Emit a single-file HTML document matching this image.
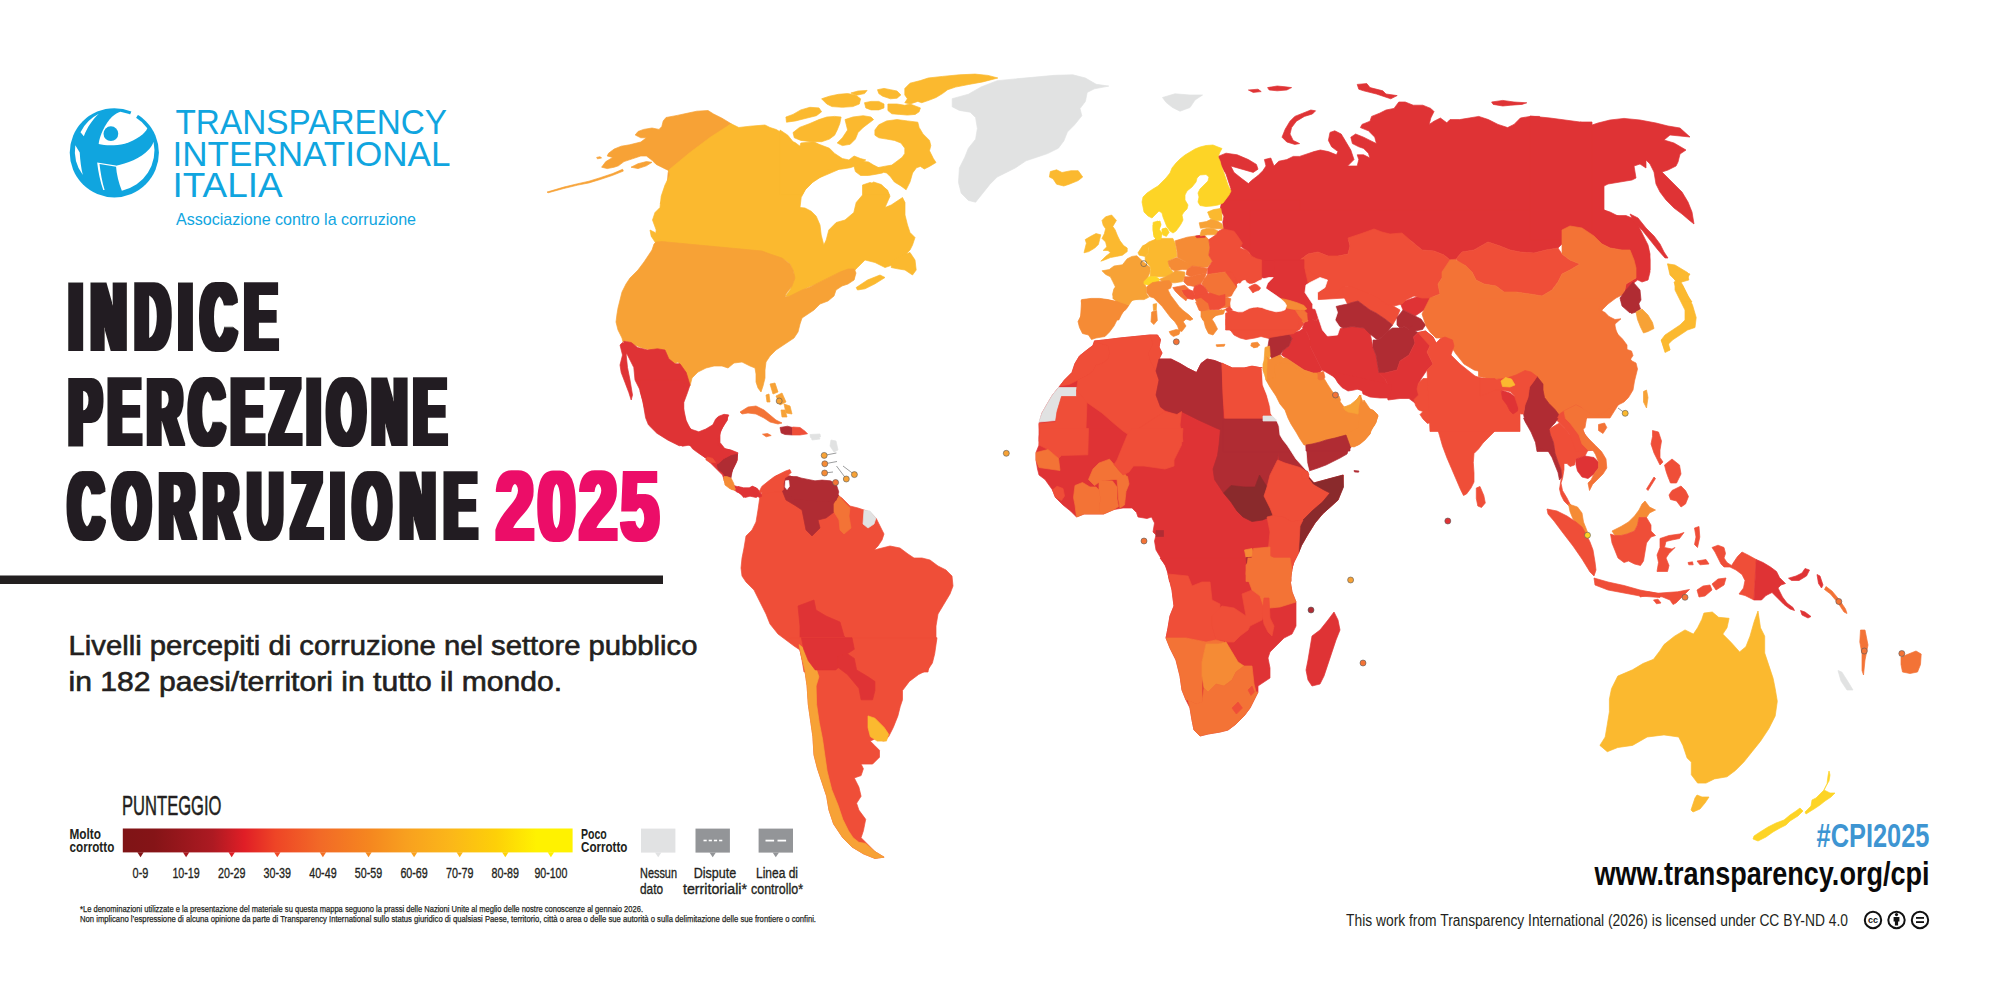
<!DOCTYPE html>
<html><head><meta charset="utf-8"><style>
html,body{margin:0;padding:0;background:#fff;}
body{width:2000px;height:1000px;overflow:hidden;position:relative;}
svg{position:absolute;left:0;top:0;}
</style></head><body>
<svg width="2000" height="1000" viewBox="0 0 2000 1000">
<defs><linearGradient id="lg" x1="0" x2="1" y1="0" y2="0">
<stop offset="0" stop-color="#7f1416"/><stop offset="0.07" stop-color="#851417"/>
<stop offset="0.2" stop-color="#ad1a22"/><stop offset="0.27" stop-color="#e01e26"/>
<stop offset="0.34" stop-color="#ee4526"/><stop offset="0.44" stop-color="#f26a27"/>
<stop offset="0.55" stop-color="#f5871f"/><stop offset="0.63" stop-color="#f8a01f"/>
<stop offset="0.73" stop-color="#fbb719"/><stop offset="0.83" stop-color="#fdd008"/>
<stop offset="0.92" stop-color="#fff200"/><stop offset="1" stop-color="#fff200"/>
</linearGradient><filter id="hb" x="-5%" y="-5%" width="110%" height="110%"><feMorphology operator="dilate" radius="7.20 0.5"/></filter><filter id="hb2" x="-5%" y="-5%" width="110%" height="110%"><feMorphology operator="dilate" radius="4.29 0.5"/></filter></defs>
<g>
<path fill="#f7a236" stroke="#f7a236" stroke-width="0.7" d="M731.2,123.8 722.0,118.2 713.6,114.0 708.0,110.5 696.8,111.2 687.0,113.3 677.2,115.4 666.0,117.5 663.2,121.0 661.8,126.6 659.0,129.4 652.0,128.0 643.6,129.4 638.0,131.5 635.2,135.0 640.8,137.8 646.4,137.8 640.8,142.0 629.6,144.8 621.2,146.2 614.2,149.0 608.6,153.2 607.2,156.0 612.8,157.4 605.8,161.6 601.6,167.2 607.2,168.6 614.2,167.2 618.4,165.8 624.0,161.6 632.4,158.8 640.8,156.0 646.4,156.0 652.0,160.2 656.2,164.4 661.8,167.2 667.4,170.0 670.2,171.4Z"/>
<path fill="#f7a236" stroke="#f7a236" stroke-width="0.7" d="M622.6,169.3 612.8,173.5 600.2,177.7 589.0,181.2 577.8,183.7 563.8,187.1 547.0,192.1 548.4,192.7 563.8,188.5 577.8,185.1 589.0,182.9 600.2,179.5 612.8,175.3 623.3,171.1Z"/>
<path fill="#f7a236" stroke="#f7a236" stroke-width="0.7" d="M631.0,167.2 638.0,163.7 646.4,161.6 652.0,162.3 646.4,165.8 638.0,168.6Z"/>
<path fill="#f7a236" stroke="#f7a236" stroke-width="0.7" d="M668.8,170.0 674.4,172.8 680.0,175.6 678.6,181.2 675.8,189.6 673.0,198.0 668.8,203.6 663.2,206.4 660.4,203.6 663.2,196.6 666.0,189.6 667.4,181.2 668.1,172.8Z"/>
<path fill="#f7a236" stroke="#f7a236" stroke-width="0.7" d="M596.7,157.4 600.2,156.7 601.6,158.1 597.4,158.8Z"/>
<path fill="#fbb92f" stroke="#fbb92f" stroke-width="0.7" d="M731.2,123.8 738.8,127.5 750.0,126.2 765.0,125.0 770.0,127.5 776.2,129.5 781.2,132.5 787.5,136.2 787.5,140.0 795.0,142.5 800.0,146.2 802.5,150.0 812.5,150.5 825.0,152.5 833.8,155.0 842.5,160.0 842.5,166.2 837.5,170.0 828.8,173.8 820.0,177.5 812.5,182.5 805.0,190.0 801.2,197.5 800.0,207.5 805.0,208.0 811.2,211.2 816.2,216.2 820.0,225.0 821.2,235.0 823.8,245.0 826.2,240.0 828.8,230.0 836.2,222.5 845.0,220.0 853.8,212.5 856.2,202.5 862.5,195.0 862.5,185.0 870.0,182.5 880.0,185.0 887.5,190.0 890.0,196.2 885.0,207.5 891.2,205.0 902.5,197.5 905.0,202.5 905.0,215.0 907.5,225.0 910.0,232.5 915.0,237.5 912.5,245.0 910.0,250.0 902.5,257.5 892.5,265.0 885.0,267.5 875.0,262.5 865.0,260.0 857.5,267.5 855.0,270.0 853.8,280.0 845.0,276.2 837.5,273.8 827.5,278.8 817.5,283.8 807.5,287.5 798.8,292.5 791.2,296.2 785.5,296.2 790.0,290.0 793.8,280.0 793.8,272.5 790.0,263.8 785.0,260.0 776.2,258.8 762.5,252.5 750.0,251.2 730.0,248.8 705.0,246.2 680.0,243.8 663.8,242.0 660.0,246.2 655.0,237.5 656.2,230.0 652.5,220.0 655.0,212.5 660.0,207.5 661.2,196.2 665.0,185.0 670.0,175.0 668.8,170.0 690.0,152.5 710.0,137.5Z"/>
<path fill="#fbb92f" stroke="#fbb92f" stroke-width="0.7" d="M892.5,260.0 902.5,255.0 910.0,252.5 915.0,260.0 916.2,270.0 912.5,275.0 905.0,270.0 897.5,268.8 891.2,267.5Z"/>
<path fill="#fbb92f" stroke="#fbb92f" stroke-width="0.7" d="M856.2,287.5 867.5,280.0 880.0,275.0 885.0,277.5 875.0,283.8 865.0,288.8 857.5,290.0Z"/>
<path fill="#fbb92f" stroke="#fbb92f" stroke-width="0.7" d="M650.0,230.0 655.0,232.5 660.0,240.0 661.2,246.2 656.2,243.8 651.2,236.2Z"/>
<path fill="#fbb92f" stroke="#fbb92f" stroke-width="0.7" d="M904.8,88.4 910.0,83.2 920.4,80.6 928.2,78.0 942.5,76.4 959.4,74.8 975.0,74.1 988.0,75.4 997.8,78.0 982.8,81.9 968.5,84.5 955.5,87.1 947.7,89.7 942.5,93.6 936.0,97.5 929.5,100.1 921.7,102.7 917.8,101.4 910.0,104.0 904.8,102.7 907.4,98.8 904.8,94.9Z"/>
<path fill="#fbb92f" stroke="#fbb92f" stroke-width="0.7" d="M887.9,104.0 897.0,104.0 904.8,105.3 910.0,104.0 920.4,107.9 919.1,111.8 915.2,114.4 907.4,115.1 899.6,114.4 891.8,113.8 887.9,110.5Z"/>
<path fill="#fbb92f" stroke="#fbb92f" stroke-width="0.7" d="M864.5,102.7 871.0,101.4 878.8,101.4 884.0,104.0 884.0,107.9 878.8,109.9 871.0,109.9 865.8,107.9Z"/>
<path fill="#fbb92f" stroke="#fbb92f" stroke-width="0.7" d="M877.5,89.7 884.0,88.4 890.5,89.7 897.0,91.0 900.9,94.9 897.0,98.2 890.5,98.8 882.7,96.2 878.8,93.6Z"/>
<path fill="#fbb92f" stroke="#fbb92f" stroke-width="0.7" d="M821.6,98.8 829.4,96.2 838.5,94.3 847.6,93.6 855.4,94.9 860.6,98.8 859.3,104.0 852.8,106.6 842.4,107.3 832.0,106.6 826.8,104.0Z"/>
<path fill="#fbb92f" stroke="#fbb92f" stroke-width="0.7" d="M850.9,93.0 858.0,91.0 867.1,90.4 864.5,93.6 856.7,95.2Z"/>
<path fill="#fbb92f" stroke="#fbb92f" stroke-width="0.7" d="M785.9,117.0 793.0,114.4 800.8,109.9 809.9,107.3 819.0,107.9 821.6,111.8 816.4,115.7 806.0,118.3 795.6,120.9 786.5,122.2Z"/>
<path fill="#fbb92f" stroke="#fbb92f" stroke-width="0.7" d="M793.0,132.6 799.5,127.4 809.9,123.5 819.0,119.6 826.8,117.0 834.6,116.4 841.1,117.0 839.8,123.5 837.2,130.0 834.6,135.2 829.4,139.1 821.6,141.7 811.2,141.7 800.8,140.4 794.3,137.8Z"/>
<path fill="#fbb92f" stroke="#fbb92f" stroke-width="0.7" d="M845.0,119.6 852.8,117.0 863.2,115.7 871.0,117.0 873.6,119.6 868.4,123.5 863.2,127.4 858.0,132.6 855.4,139.1 850.2,144.3 842.4,145.6 837.2,143.0 842.4,137.8 847.6,130.0 846.3,124.8Z"/>
<path fill="#fbb92f" stroke="#fbb92f" stroke-width="0.7" d="M874.9,130.0 878.8,124.8 886.6,120.9 897.0,119.6 907.4,120.9 917.8,122.2 919.1,127.4 923.0,133.9 929.5,140.4 930.8,145.6 929.5,150.8 933.4,158.6 936.0,162.5 929.5,166.4 924.3,169.0 920.4,166.4 916.5,167.7 912.6,172.9 910.0,182.0 906.1,189.8 900.9,185.9 894.4,182.0 890.5,176.8 886.6,172.9 880.1,171.6 877.5,167.7 884.0,166.4 891.8,165.1 897.0,161.2 902.2,157.3 904.8,153.4 904.8,148.2 900.9,143.0 894.4,140.4 886.6,139.1 878.8,137.8 874.9,135.2Z"/>
<path fill="#fbb92f" stroke="#fbb92f" stroke-width="0.7" d="M854.1,166.4 860.6,161.2 868.4,161.9 873.6,165.1 878.8,167.7 884.0,169.0 882.7,172.9 876.2,174.2 868.4,175.5 860.6,175.5 855.4,171.6Z"/>
<path fill="#fbb92f" stroke="#fbb92f" stroke-width="0.7" d="M780.0,130.0 787.8,135.2 793.0,141.7 799.5,148.2 800.8,143.0 813.8,141.7 819.0,144.3 829.4,148.2 834.6,153.4 842.4,158.6 848.9,159.9 854.1,156.0 860.6,158.6 865.8,159.9 858.0,165.1 850.2,167.7 842.4,169.0 832.0,170.3 826.8,169.0 822.9,175.5 813.8,180.7 806.0,188.5 802.1,195.0 780.0,195.0Z"/>
<path fill="#fbb92f" stroke="#fbb92f" stroke-width="0.7" d="M863.2,195.0 868.4,185.9 873.6,182.0 881.4,184.6 886.6,189.8 889.2,195.0Z"/>
<path fill="#f7a236" stroke="#f7a236" stroke-width="0.7" d="M656.0,242.0 662.0,241.6 762.0,251.0 770.0,254.0 782.0,258.0 790.0,264.0 793.0,270.0 795.0,278.0 792.0,286.0 786.0,294.0 785.0,297.0 790.0,296.0 802.0,290.0 810.0,287.0 820.0,282.0 830.0,277.0 840.0,272.0 848.0,269.0 854.0,269.0 856.0,273.0 854.0,280.0 848.0,284.0 842.0,286.0 836.0,290.0 834.0,296.0 828.0,301.0 820.0,304.0 814.0,310.0 808.0,314.0 802.0,318.0 800.0,324.0 798.0,332.0 794.0,338.0 788.0,342.0 782.0,346.0 776.0,350.0 770.0,356.0 766.0,362.0 765.0,370.0 765.0,378.0 763.0,386.0 761.0,392.0 758.0,388.0 756.0,382.0 756.0,374.0 755.0,368.0 750.0,366.0 742.0,362.0 734.0,363.0 728.0,368.0 722.0,366.0 714.0,366.0 706.0,368.0 698.0,372.0 692.0,378.0 690.0,386.0 684.0,382.0 682.0,374.0 681.0,366.0 678.0,362.0 674.0,364.0 668.0,358.0 665.0,350.0 658.0,349.0 650.0,350.0 642.0,348.0 632.0,344.0 626.0,341.0 623.0,342.0 622.0,338.0 618.0,330.0 616.0,322.0 617.0,314.0 618.0,308.0 620.0,300.0 622.0,292.0 626.0,284.0 630.0,278.0 638.0,270.0 644.0,262.0 648.0,256.0 652.0,250.0 654.0,244.0Z"/>
<path fill="#f37336" stroke="#f37336" stroke-width="0.7" d="M740.0,412.0 748.0,407.0 756.0,406.0 764.0,410.0 770.0,415.0 776.0,420.0 782.0,423.0 778.0,424.0 770.0,422.0 764.0,418.0 756.0,414.0 748.0,413.0 742.0,414.0Z"/>
<path fill="#df3335" stroke="#df3335" stroke-width="0.7" d="M623.8,341.2 631.2,342.5 637.5,347.5 647.5,350.0 657.5,348.8 665.0,350.0 668.8,358.8 675.0,363.8 680.0,363.8 686.2,372.5 690.0,385.0 687.5,392.5 683.8,402.5 683.8,415.0 687.5,425.0 693.8,432.5 705.0,432.5 712.5,427.5 717.5,417.5 727.5,415.0 727.5,420.0 722.5,427.5 720.0,432.5 715.0,435.0 710.0,436.2 705.0,437.5 695.0,433.8 692.5,440.0 690.0,445.0 682.5,446.2 675.0,442.5 665.0,437.5 655.0,430.0 647.5,420.0 645.0,410.0 642.5,400.0 640.0,390.0 635.0,380.0 633.8,367.5 630.0,360.0 625.0,350.0Z"/>
<path fill="#df3335" stroke="#df3335" stroke-width="0.7" d="M622.5,342.5 628.8,345.0 626.2,355.0 627.5,367.5 630.0,380.0 632.5,395.0 631.2,400.0 628.8,392.5 625.0,382.5 621.2,372.5 620.0,365.0 622.5,355.0 620.0,345.0Z"/>
<path fill="#df3335" stroke="#df3335" stroke-width="0.7" d="M690.0,445.0 700.0,437.5 705.0,435.0 715.0,433.8 720.0,432.5 720.0,442.5 725.0,448.8 730.0,450.0 737.5,453.8 737.5,460.0 732.5,470.0 730.0,477.5 732.5,485.0 740.0,487.5 747.5,490.0 752.5,486.2 757.5,488.8 760.0,495.0 756.2,497.5 750.0,496.2 745.0,497.5 740.0,493.8 736.2,490.0 730.0,487.5 725.0,482.5 722.5,475.0 717.5,470.0 710.0,462.5 705.0,457.5 697.5,452.5 692.5,448.8Z"/>
<path fill="#b02c33" stroke="#b02c33" stroke-width="0.7" d="M718.8,460.0 727.5,456.2 737.5,453.8 736.2,462.5 732.5,470.0 730.0,476.2 725.0,476.2 721.2,470.0 717.5,465.0Z"/>
<path fill="#f58b35" stroke="#f58b35" stroke-width="0.7" d="M723.8,477.5 730.0,477.0 732.5,485.0 736.2,490.0 730.0,488.8 725.0,485.0Z"/>
<path fill="#b02c33" stroke="#b02c33" stroke-width="0.7" d="M780.0,427.5 787.5,426.2 792.5,427.5 792.5,435.0 785.0,434.5 781.2,433.0Z"/>
<path fill="#ef4e38" stroke="#ef4e38" stroke-width="0.7" d="M792.5,427.0 800.0,427.5 805.0,431.2 807.5,433.8 800.0,435.0 792.5,435.0Z"/>
<path fill="#f37336" stroke="#f37336" stroke-width="0.7" d="M762.5,434.2 767.5,433.5 771.2,435.5 766.2,436.8Z"/>
<path fill="#e1e2e2" stroke="#e1e2e2" stroke-width="0.7" d="M810.0,434.5 820.0,434.0 820.5,437.0 810.5,437.5Z"/>
<path fill="#e1e2e2" stroke="#e1e2e2" stroke-width="0.7" d="M952.2,98.7 968.4,94.2 981.0,87.0 997.2,80.7 1015.2,78.9 1035.0,77.1 1054.8,75.3 1072.8,74.8 1085.4,78.0 1096.2,84.3 1108.8,86.1 1094.4,88.8 1087.2,92.4 1085.4,101.4 1080.0,108.6 1081.8,115.8 1074.6,124.8 1067.4,132.0 1063.8,141.0 1058.4,148.2 1047.6,153.6 1036.8,157.2 1026.0,160.8 1015.2,168.0 1004.4,173.4 997.2,177.0 990.0,184.2 982.8,193.2 975.6,202.2 968.4,200.4 961.2,193.2 958.5,182.4 959.4,168.0 964.8,157.2 968.4,148.2 975.6,139.2 977.4,128.4 975.6,117.6 970.2,112.2 959.4,110.4 952.2,106.8Z"/>
<path fill="#fbb92f" stroke="#fbb92f" stroke-width="0.7" d="M1050.3,171.6 1056.6,169.8 1062.0,172.5 1071.0,170.7 1078.2,170.7 1082.7,177.0 1078.2,180.6 1069.2,184.2 1063.8,186.0 1056.6,184.2 1053.0,178.8 1049.4,177.0Z"/>
<path fill="#df3335" stroke="#df3335" stroke-width="0.7" d="M1218.0,156.4 1226.0,153.2 1237.2,154.8 1248.4,159.6 1256.4,164.4 1258.0,169.2 1253.2,172.4 1242.0,169.2 1230.8,166.0 1234.0,172.4 1242.0,178.8 1248.4,183.6 1251.6,180.4 1258.0,175.6 1262.8,170.8 1266.0,166.0 1264.4,159.6 1270.8,158.0 1274.0,166.0 1278.8,161.2 1286.8,159.6 1293.2,156.4 1299.6,156.4 1309.2,153.2 1314.0,151.6 1320.4,150.0 1328.4,151.6 1336.4,154.8 1338.0,151.6 1331.6,146.8 1328.4,140.4 1330.0,132.4 1334.8,130.8 1341.2,134.0 1346.0,142.0 1350.8,150.0 1354.0,159.6 1347.6,166.0 1357.2,166.0 1358.8,159.6 1357.2,154.8 1363.6,154.8 1370.0,158.0 1368.4,153.2 1363.6,148.4 1358.8,146.8 1352.4,143.6 1350.8,137.2 1355.6,134.0 1363.6,137.2 1370.0,140.4 1376.4,143.6 1374.8,137.2 1368.4,130.8 1360.4,127.6 1362.0,124.4 1370.0,121.2 1371.6,116.4 1379.6,113.2 1386.0,110.0 1394.0,108.4 1398.8,102.0 1405.2,102.0 1413.2,105.2 1422.8,105.2 1430.8,108.4 1434.0,111.6 1430.8,118.0 1429.2,124.4 1434.0,121.2 1440.4,118.0 1446.8,122.8 1450.0,119.6 1459.6,119.6 1469.2,118.0 1478.8,116.4 1488.4,119.6 1498.0,124.4 1507.6,127.6 1514.0,124.4 1520.4,118.0 1530.0,116.4 1539.6,116.4 1539.6,239.6 1224.4,239.6 1222.8,222.0 1224.4,214.0 1227.6,206.0 1222.8,204.4 1226.0,198.0 1230.8,188.4 1226.0,174.0 1221.2,166.0Z"/>
<path fill="#df3335" stroke="#df3335" stroke-width="0.7" d="M1282.0,137.2 1285.2,129.2 1290.0,121.2 1294.8,116.4 1302.8,113.2 1310.8,110.0 1315.6,110.8 1312.4,114.0 1304.4,116.4 1296.4,121.2 1291.6,127.6 1290.0,134.0 1293.2,140.4 1299.6,143.6 1294.8,144.4 1286.8,142.0Z"/>
<path fill="#df3335" stroke="#df3335" stroke-width="0.7" d="M1357.2,84.4 1366.8,83.6 1370.0,87.6 1382.8,90.8 1386.0,94.0 1397.2,95.6 1390.8,98.8 1386.0,97.2 1376.4,94.0 1363.6,90.8 1358.8,89.2Z"/>
<path fill="#df3335" stroke="#df3335" stroke-width="0.7" d="M1491.6,102.0 1502.8,100.4 1514.0,102.0 1526.8,102.8 1522.0,104.4 1510.8,105.2 1502.8,106.0 1493.2,104.4Z"/>
<path fill="#df3335" stroke="#df3335" stroke-width="0.7" d="M1248.4,90.0 1258.0,89.2 1261.2,91.6 1253.2,92.4Z"/>
<path fill="#df3335" stroke="#df3335" stroke-width="0.7" d="M1267.6,87.6 1277.2,86.0 1285.2,86.8 1291.6,87.6 1286.8,90.0 1277.2,90.8 1269.2,90.0Z"/>
<path fill="#df3335" stroke="#df3335" stroke-width="0.7" d="M1222.0,200.0 1300.0,200.0 1300.0,290.0 1285.0,290.0 1284.0,286.0 1280.0,283.0 1277.0,280.0 1272.0,277.0 1270.0,273.0 1260.0,270.0 1256.0,260.0 1252.0,255.0 1246.0,250.0 1240.0,246.0 1230.0,243.0 1222.0,238.0 1226.0,230.0 1228.0,223.0 1224.0,216.0 1220.0,210.0Z"/>
<path fill="#df3335" stroke="#df3335" stroke-width="0.7" d="M1250.0,210.0 1604.0,210.0 1614.0,215.6 1626.0,215.6 1632.0,218.0 1638.0,225.0 1644.0,237.0 1648.0,245.0 1650.0,254.0 1650.0,270.0 1640.0,278.0 1630.0,286.0 1624.0,294.0 1626.0,284.0 1636.0,278.0 1636.0,268.0 1634.0,260.0 1630.0,250.0 1622.0,250.0 1610.0,248.0 1602.0,244.0 1594.0,236.0 1582.0,228.0 1570.0,226.0 1562.0,230.0 1562.0,244.0 1558.0,248.0 1546.0,250.0 1534.0,253.0 1520.0,252.0 1510.0,250.0 1500.0,246.0 1488.0,242.0 1474.0,250.0 1462.0,252.0 1456.0,259.0 1450.0,260.0 1444.0,255.0 1434.0,251.0 1422.0,250.0 1410.0,240.0 1402.0,233.0 1390.0,234.0 1382.0,232.0 1374.0,229.0 1360.0,234.0 1348.0,238.0 1350.0,246.0 1348.0,254.0 1338.0,256.0 1328.0,256.0 1318.0,252.0 1308.0,254.0 1300.0,260.0 1304.0,270.0 1310.0,284.0 1306.0,288.0 1308.0,294.0 1314.0,302.0 1308.0,310.0 1297.0,306.0 1288.0,304.0 1285.0,300.0 1280.0,290.0 1272.4,282.4 1266.0,279.0 1258.0,276.0 1250.0,274.0Z"/>
<path fill="#df3335" stroke="#df3335" stroke-width="0.7" d="M1580.0,122.0 1592.0,125.0 1598.0,123.0 1610.0,120.0 1624.0,118.4 1640.0,120.0 1656.0,123.0 1668.0,126.0 1680.0,128.0 1690.0,137.0 1680.0,136.0 1670.0,135.0 1664.0,140.0 1674.0,143.0 1686.0,150.0 1680.0,154.0 1678.0,162.0 1676.0,166.0 1668.0,170.0 1662.0,172.0 1666.0,176.0 1674.0,184.0 1682.0,192.0 1688.0,202.0 1692.0,212.0 1694.0,224.0 1689.0,220.0 1682.0,214.0 1674.0,208.0 1666.0,200.0 1660.0,192.0 1656.0,184.0 1654.0,172.0 1650.0,164.0 1646.0,160.0 1646.0,168.0 1640.0,164.0 1634.0,166.0 1636.0,178.0 1632.0,180.0 1620.0,182.0 1608.0,184.0 1604.0,186.0 1604.0,210.0 1610.0,212.0 1618.0,216.0 1624.0,218.0 1632.0,220.0 1640.0,232.0 1644.0,240.0 1648.0,248.0 1650.0,260.0 1650.0,272.0 1648.0,280.0 1642.0,282.0 1638.0,280.0 1634.0,276.0 1632.0,266.0 1628.0,252.0 1616.0,248.0 1604.0,244.0 1592.0,236.0 1580.0,228.0Z"/>
<path fill="#df3335" stroke="#df3335" stroke-width="0.7" d="M1630.0,214.0 1638.0,218.0 1646.0,228.0 1654.0,236.0 1660.0,244.0 1664.0,252.0 1668.0,258.0 1665.0,258.0 1658.0,250.0 1650.0,240.0 1642.0,230.0 1634.0,222.0Z"/>
<path fill="#fdd426" stroke="#fdd426" stroke-width="0.7" d="M1143.0,197.0 1147.0,193.0 1153.0,189.0 1158.0,186.0 1162.0,182.0 1166.0,178.0 1170.0,173.0 1172.0,168.0 1176.0,163.0 1180.0,159.0 1185.0,155.0 1190.0,152.0 1195.0,149.0 1200.0,147.0 1206.0,145.5 1213.0,145.0 1218.0,147.0 1222.0,148.5 1220.0,152.0 1218.0,157.0 1220.0,161.0 1221.0,165.0 1224.0,173.0 1226.0,179.0 1228.0,185.0 1231.0,191.0 1229.0,195.0 1226.0,199.0 1223.0,203.0 1218.0,205.0 1212.0,206.0 1206.0,206.5 1200.0,205.5 1198.0,202.0 1199.0,197.0 1198.0,193.0 1200.0,189.0 1204.0,185.0 1208.0,181.0 1209.0,177.0 1206.0,174.5 1200.0,175.0 1197.0,178.0 1196.0,182.0 1192.0,187.0 1187.0,191.0 1185.0,195.0 1185.0,200.0 1188.0,205.0 1187.0,209.0 1184.0,212.0 1182.0,215.0 1183.0,220.0 1181.0,224.0 1179.0,227.0 1176.0,231.0 1173.0,233.0 1170.0,231.0 1167.0,227.0 1165.0,222.0 1163.0,217.0 1162.0,213.0 1159.0,211.0 1156.0,214.0 1152.0,218.0 1148.0,216.0 1144.0,212.0 1143.0,207.0 1142.0,202.0Z"/>
<path fill="#fdd426" stroke="#fdd426" stroke-width="0.7" d="M1153.0,225.0 1157.0,222.0 1160.0,221.0 1161.0,225.0 1159.0,229.0 1157.0,234.0 1154.0,235.0 1153.0,230.0Z"/>
<path fill="#fdd426" stroke="#fdd426" stroke-width="0.7" d="M1162.0,229.0 1166.0,228.0 1168.0,231.0 1165.0,234.0 1162.0,233.0Z"/>
<path fill="#fbb92f" stroke="#fbb92f" stroke-width="0.7" d="M1105.6,216.8 1111.6,215.0 1116.4,220.4 1112.8,226.4 1115.2,230.0 1117.6,236.0 1120.0,240.8 1123.6,245.6 1127.2,248.0 1127.2,251.6 1122.4,255.2 1116.4,256.4 1110.4,257.6 1104.4,260.0 1100.8,261.2 1105.6,256.4 1110.4,252.8 1108.0,250.4 1103.2,250.4 1106.8,246.8 1105.6,242.0 1102.0,238.4 1104.4,233.6 1105.6,228.8 1103.2,225.2 1102.0,220.4Z"/>
<path fill="#fbb92f" stroke="#fbb92f" stroke-width="0.7" d="M1085.2,239.6 1091.2,236.0 1096.0,233.6 1100.8,234.8 1099.6,239.6 1098.4,244.4 1094.8,248.0 1088.8,251.6 1084.0,252.8 1085.2,248.0 1086.4,243.2Z"/>
<path fill="#f7a236" stroke="#f7a236" stroke-width="0.7" d="M1102.0,270.8 1109.2,269.6 1114.0,266.0 1122.4,264.8 1127.2,258.8 1132.0,256.4 1136.8,255.8 1144.0,262.4 1150.0,267.2 1150.0,272.0 1147.6,278.0 1144.0,282.8 1146.4,287.6 1146.4,293.6 1148.8,297.2 1144.0,299.6 1138.0,299.6 1133.2,299.6 1129.6,302.0 1124.8,304.4 1117.6,302.0 1112.8,298.4 1114.0,291.2 1115.2,286.4 1112.8,281.6 1110.4,276.8 1105.6,274.4Z"/>
<path fill="#fbb92f" stroke="#fbb92f" stroke-width="0.7" d="M1138.0,252.8 1142.8,245.6 1147.6,244.4 1148.8,252.8 1145.2,256.4 1139.2,255.2Z"/>
<path fill="#fbb92f" stroke="#fbb92f" stroke-width="0.7" d="M1144.0,245.6 1148.8,242.0 1154.8,239.6 1157.2,236.0 1162.0,238.4 1168.0,238.4 1172.8,238.4 1175.2,243.2 1176.4,250.4 1177.0,256.4 1168.0,261.2 1169.2,267.2 1172.8,272.0 1170.4,275.6 1165.6,276.8 1160.8,276.8 1154.8,276.8 1150.0,276.8 1150.6,269.6 1150.0,266.0 1145.2,261.2 1145.2,256.4 1148.8,252.8 1148.8,248.0Z"/>
<path fill="#fdd426" stroke="#fdd426" stroke-width="0.7" d="M1144.0,281.6 1148.8,276.8 1156.0,276.8 1159.6,279.2 1158.4,282.8 1152.4,285.2 1148.8,285.2 1144.0,284.0Z"/>
<path fill="#f7a236" stroke="#f7a236" stroke-width="0.7" d="M1159.6,279.2 1165.6,276.8 1170.4,274.4 1175.2,270.8 1184.8,272.0 1184.8,276.8 1182.4,281.6 1175.2,282.8 1168.0,282.8 1162.0,281.6Z"/>
<path fill="#f58b35" stroke="#f58b35" stroke-width="0.7" d="M1168.0,261.2 1176.4,257.6 1184.8,261.2 1189.6,263.6 1192.0,266.0 1187.2,269.6 1182.4,269.6 1175.2,270.8 1171.6,269.6 1169.2,266.0Z"/>
<path fill="#f58b35" stroke="#f58b35" stroke-width="0.7" d="M1175.2,240.8 1187.2,237.2 1195.6,236.0 1205.2,236.0 1208.8,239.6 1210.0,248.0 1208.8,255.2 1212.4,261.2 1207.6,267.2 1201.6,267.2 1192.0,266.0 1184.8,261.2 1177.6,257.6 1177.0,250.4 1175.8,244.4Z"/>
<path fill="#f58b35" stroke="#f58b35" stroke-width="0.7" d="M1081.6,299.6 1091.2,298.4 1099.6,298.4 1108.0,299.6 1117.6,302.0 1124.8,304.4 1128.4,305.6 1124.8,309.2 1121.2,315.2 1118.8,320.0 1080.4,320.0Z"/>
<path fill="#df3335" stroke="#df3335" stroke-width="0.7" d="M1195.6,236.0 1204.0,234.8 1205.2,237.2 1196.8,237.8Z"/>
<path fill="#f7a236" stroke="#f7a236" stroke-width="0.7" d="M1200.4,236.0 1207.6,234.8 1216.0,234.8 1218.4,231.2 1213.6,228.8 1207.6,228.2 1201.6,230.0 1200.4,233.6Z"/>
<path fill="#f7a236" stroke="#f7a236" stroke-width="0.7" d="M1199.2,222.8 1206.4,221.6 1211.2,219.2 1214.8,219.2 1222.0,224.0 1223.2,228.8 1216.0,228.8 1207.6,227.6 1200.4,228.2Z"/>
<path fill="#fbb92f" stroke="#fbb92f" stroke-width="0.7" d="M1207.6,212.0 1213.6,209.6 1220.8,208.4 1222.0,215.6 1222.0,220.4 1216.0,220.4 1210.0,218.0Z"/>
<path fill="#ef4e38" stroke="#ef4e38" stroke-width="0.7" d="M1208.8,239.6 1216.0,234.8 1218.4,231.2 1223.2,228.8 1228.0,230.0 1234.0,231.2 1237.6,236.0 1242.4,243.2 1240.0,248.0 1247.2,250.4 1252.0,256.4 1256.8,258.8 1261.6,260.0 1261.6,284.0 1256.8,282.8 1252.0,284.0 1247.2,282.8 1242.4,284.0 1238.8,282.8 1236.4,284.0 1232.8,281.6 1231.6,276.8 1225.6,272.0 1216.0,273.2 1207.6,274.4 1207.6,268.4 1212.4,261.2 1208.8,255.2 1210.0,248.0Z"/>
<path fill="#f37336" stroke="#f37336" stroke-width="0.7" d="M1187.2,269.6 1192.0,266.0 1201.6,267.2 1207.6,268.4 1206.4,273.2 1198.0,274.4 1190.8,276.8 1186.0,274.4Z"/>
<path fill="#f37336" stroke="#f37336" stroke-width="0.7" d="M1184.8,276.8 1190.8,276.8 1198.0,274.4 1206.4,273.2 1204.0,279.2 1200.4,284.0 1194.4,286.4 1187.2,285.2 1183.6,281.6Z"/>
<path fill="#f37336" stroke="#f37336" stroke-width="0.7" d="M1204.0,279.2 1207.6,274.4 1216.0,273.2 1225.6,272.0 1231.6,276.8 1236.4,284.0 1237.6,290.0 1231.6,296.0 1225.6,297.2 1218.4,297.2 1211.2,294.8 1207.6,291.2 1204.0,286.4 1201.6,284.0Z"/>
<path fill="#ef4e38" stroke="#ef4e38" stroke-width="0.7" d="M1225.6,272.0 1231.6,272.0 1236.4,279.2 1236.4,286.4 1232.8,281.6Z"/>
<path fill="#ef4e38" stroke="#ef4e38" stroke-width="0.7" d="M1194.4,286.4 1200.4,284.0 1204.0,286.4 1207.6,291.2 1208.8,298.4 1207.6,304.4 1201.6,305.6 1198.0,302.0 1195.6,296.0 1193.2,291.2Z"/>
<path fill="#ef4e38" stroke="#ef4e38" stroke-width="0.7" d="M1181.2,290.0 1187.2,288.8 1193.2,291.2 1195.6,296.0 1193.2,299.6 1187.2,298.4 1183.6,294.8Z"/>
<path fill="#f37336" stroke="#f37336" stroke-width="0.7" d="M1172.8,287.6 1178.8,286.4 1184.8,285.2 1188.4,288.8 1181.2,290.0 1183.6,294.8 1187.2,298.4 1186.0,300.8 1180.0,296.0 1175.2,291.2Z"/>
<path fill="#f37336" stroke="#f37336" stroke-width="0.7" d="M1208.8,298.4 1218.4,297.2 1226.8,297.2 1232.8,299.6 1230.4,306.8 1222.0,308.0 1213.6,309.2 1208.8,305.6Z"/>
<path fill="#f37336" stroke="#f37336" stroke-width="0.7" d="M1195.6,302.0 1201.6,305.6 1207.6,304.4 1208.8,308.0 1204.0,311.6 1199.2,310.4Z"/>
<path fill="#f58b35" stroke="#f58b35" stroke-width="0.7" d="M1201.6,311.6 1210.0,310.4 1216.0,310.4 1222.0,309.8 1223.2,312.8 1216.0,315.2 1211.2,320.0 1202.8,320.0Z"/>
<path fill="#df3335" stroke="#df3335" stroke-width="0.7" d="M1530.0,116.0 1550.0,118.0 1565.0,120.0 1580.0,122.0 1592.0,122.0 1592.0,240.0 1530.0,240.0Z"/>
<path fill="#e1e2e2" stroke="#e1e2e2" stroke-width="0.7" d="M1162.5,97.5 1175.0,93.8 1190.0,95.0 1202.5,95.0 1195.0,100.0 1190.0,107.5 1180.0,111.2 1172.5,107.5 1166.2,102.5Z"/>
<path fill="#df3335" stroke="#df3335" stroke-width="0.7" d="M1296.0,262.0 1312.0,262.0 1312.0,320.0 1296.0,320.0Z"/>
<path fill="#ef4e38" stroke="#ef4e38" stroke-width="0.7" d="M1304.0,265.0 1345.0,265.0 1345.0,298.0 1312.0,300.0Z"/>
<path fill="#ef4e38" stroke="#ef4e38" stroke-width="0.7" d="M1226.0,319.0 1232.0,314.5 1239.5,311.5 1250.0,309.2 1259.0,308.5 1268.0,310.0 1280.0,311.5 1286.0,310.0 1290.5,313.0 1298.0,314.5 1301.0,319.0 1304.0,323.5 1299.5,329.5 1293.5,332.5 1286.0,334.0 1280.0,335.5 1271.0,337.0 1268.0,338.5 1265.0,335.5 1259.0,334.0 1253.0,337.0 1247.0,337.0 1241.0,335.5 1235.0,332.5 1229.0,329.5 1226.0,325.0Z"/>
<path fill="#f58b35" stroke="#f58b35" stroke-width="0.7" d="M1280.0,299.5 1289.0,301.0 1298.0,305.5 1304.0,308.5 1307.0,311.5 1301.0,313.0 1295.0,311.5 1286.0,310.0 1283.0,305.5Z"/>
<path fill="#f37336" stroke="#f37336" stroke-width="0.7" d="M1295.0,313.0 1301.0,313.0 1304.0,319.0 1307.0,323.5 1302.5,322.0 1298.0,317.5Z"/>
<path fill="#df3335" stroke="#df3335" stroke-width="0.7" d="M1301.0,310.0 1310.0,308.5 1317.5,310.0 1319.0,316.0 1316.0,320.5 1310.0,319.0 1305.5,316.0Z"/>
<path fill="#df3335" stroke="#df3335" stroke-width="0.7" d="M1304.0,323.5 1310.0,319.0 1316.0,320.5 1319.0,317.5 1325.0,323.5 1334.0,329.5 1343.0,328.0 1352.0,326.5 1364.0,328.0 1370.0,332.5 1371.5,340.0 1373.0,347.5 1376.0,355.0 1377.5,364.0 1379.0,373.0 1385.0,379.0 1388.0,385.0 1386.5,391.0 1383.5,395.5 1370.0,395.5 1362.5,391.0 1355.0,388.0 1349.0,385.0 1340.0,382.0 1332.5,376.0 1325.0,371.5 1322.0,370.0 1319.0,364.0 1316.0,358.0 1313.0,352.0 1310.0,346.0 1310.0,340.0 1307.0,332.5 1302.5,328.0Z"/>
<path fill="#df3335" stroke="#df3335" stroke-width="0.7" d="M1289.0,334.0 1299.5,331.0 1304.0,328.0 1307.0,332.5 1310.0,340.0 1310.0,346.0 1313.0,352.0 1319.0,364.0 1322.0,370.0 1319.0,373.0 1313.0,373.0 1304.0,370.0 1295.0,364.0 1286.0,358.0 1281.5,355.0 1283.0,350.5 1289.0,346.0 1292.0,338.5Z"/>
<path fill="#b02c33" stroke="#b02c33" stroke-width="0.7" d="M1269.5,337.0 1280.0,335.5 1289.0,334.0 1292.0,338.5 1289.0,346.0 1283.0,350.5 1280.0,355.0 1272.5,359.5 1269.5,355.0 1268.0,346.0Z"/>
<path fill="#f7a236" stroke="#f7a236" stroke-width="0.7" d="M1265.0,347.5 1269.5,346.0 1270.2,355.0 1268.0,364.0 1266.5,371.5 1263.5,370.0 1264.2,359.5Z"/>
<path fill="#f58b35" stroke="#f58b35" stroke-width="0.7" d="M1269.5,359.5 1280.0,355.0 1283.0,358.0 1277.0,365.5 1278.5,371.5 1271.0,377.5 1266.5,373.0 1268.0,365.5Z"/>
<path fill="#f58b35" stroke="#f58b35" stroke-width="0.7" d="M1263.5,377.5 1266.5,373.0 1271.0,377.5 1278.5,371.5 1277.0,365.5 1283.0,358.0 1286.0,358.0 1295.0,364.0 1304.0,370.0 1313.0,373.0 1319.0,373.0 1323.5,377.5 1328.0,385.0 1334.0,394.0 1340.0,401.5 1344.5,407.5 1350.5,412.0 1358.0,415.0 1361.0,422.5 1364.0,430.0 1283.0,430.0 1280.0,422.5 1277.0,412.0 1272.5,403.0 1268.0,394.0 1265.0,385.0Z"/>
<path fill="#f37336" stroke="#f37336" stroke-width="0.7" d="M1317.5,373.0 1323.5,371.5 1325.0,377.5 1320.5,379.0Z"/>
<path fill="#f7a236" stroke="#f7a236" stroke-width="0.7" d="M1343.0,407.5 1350.5,404.5 1358.0,398.5 1361.0,395.5 1361.0,406.0 1358.0,415.0 1350.5,412.0Z"/>
<path fill="#f58b35" stroke="#f58b35" stroke-width="0.7" d="M1358.0,415.0 1361.0,406.0 1364.0,400.0 1370.0,409.0 1377.5,416.5 1376.0,422.5 1371.5,430.0 1364.0,430.0 1361.0,422.5Z"/>
<path fill="#f58b35" stroke="#f58b35" stroke-width="0.7" d="M1251.5,343.0 1257.5,342.2 1259.8,345.2 1254.5,347.5 1250.8,346.0Z"/>
<path fill="#ef4e38" stroke="#ef4e38" stroke-width="0.7" d="M1341.5,287.5 1352.0,285.2 1364.0,289.0 1370.0,293.5 1379.0,295.0 1385.0,299.5 1392.5,305.5 1400.0,310.0 1397.0,317.5 1392.5,325.0 1385.0,319.0 1376.0,313.0 1370.0,310.0 1364.0,305.5 1358.0,301.0 1352.0,302.5 1347.5,304.0 1344.5,298.0Z"/>
<path fill="#b02c33" stroke="#b02c33" stroke-width="0.7" d="M1334.0,307.0 1340.0,305.5 1347.5,304.0 1352.0,302.5 1358.0,301.0 1364.0,305.5 1370.0,310.0 1376.0,313.0 1385.0,319.0 1392.5,325.0 1388.0,331.0 1382.0,337.0 1377.5,340.0 1370.0,334.0 1364.0,328.0 1352.0,326.5 1343.0,328.0 1337.0,325.0 1334.0,319.0 1337.0,313.0Z"/>
<path fill="#df3335" stroke="#df3335" stroke-width="0.7" d="M1400.0,302.5 1409.0,299.5 1418.0,296.5 1430.0,296.5 1439.0,299.5 1433.0,305.5 1424.0,310.0 1415.0,316.0 1409.0,313.0 1403.0,310.0Z"/>
<path fill="#b02c33" stroke="#b02c33" stroke-width="0.7" d="M1397.0,317.5 1403.0,310.0 1409.0,313.0 1415.0,316.0 1421.0,319.0 1425.5,325.0 1422.5,329.5 1415.0,331.0 1409.0,329.5 1404.5,326.5 1400.0,328.0 1397.0,325.0Z"/>
<path fill="#b02c33" stroke="#b02c33" stroke-width="0.7" d="M1373.0,340.0 1377.5,340.0 1382.0,337.0 1388.0,331.0 1392.5,328.0 1400.0,328.0 1404.5,326.5 1409.0,329.5 1412.0,325.0 1415.0,331.0 1418.0,332.5 1413.5,337.0 1415.0,343.0 1412.0,349.0 1409.0,355.0 1400.0,361.0 1397.0,370.0 1385.0,373.0 1379.0,373.0 1377.5,364.0 1376.0,355.0 1373.0,347.5Z"/>
<path fill="#df3335" stroke="#df3335" stroke-width="0.7" d="M1412.0,349.0 1415.0,343.0 1413.5,337.0 1418.0,332.5 1425.5,331.0 1433.0,337.0 1436.0,343.0 1430.0,346.0 1427.0,352.0 1430.0,358.0 1433.0,364.0 1427.0,370.0 1421.0,379.0 1418.0,385.0 1421.0,392.5 1424.0,400.0 1419.5,404.5 1415.0,403.0 1409.0,398.5 1400.0,398.5 1388.0,400.0 1386.5,391.0 1388.0,385.0 1385.0,379.0 1379.0,373.0 1385.0,373.0 1397.0,370.0 1400.0,361.0 1409.0,355.0Z"/>
<path fill="#ef4e38" stroke="#ef4e38" stroke-width="0.7" d="M1300.0,260.0 1308.0,254.0 1318.0,252.0 1328.0,256.0 1338.0,256.0 1348.0,254.0 1350.0,246.0 1348.0,238.0 1360.0,234.0 1374.0,229.0 1382.0,232.0 1390.0,234.0 1402.0,233.0 1410.0,240.0 1422.0,250.0 1434.0,251.0 1444.0,255.0 1450.0,260.0 1456.0,259.0 1454.0,266.0 1448.0,270.0 1442.0,272.0 1442.0,278.0 1438.0,284.0 1440.0,294.0 1430.0,298.0 1422.0,298.0 1414.0,296.0 1406.0,300.0 1402.0,304.0 1394.0,306.0 1386.0,304.0 1378.0,298.0 1370.0,294.0 1360.0,290.0 1350.0,286.0 1342.0,287.0 1336.0,294.0 1334.0,298.0 1330.0,294.0 1328.0,286.0 1322.0,282.0 1316.0,276.0 1310.0,272.0 1304.0,268.0Z"/>
<path fill="#ef4e38" stroke="#ef4e38" stroke-width="0.7" d="M1456.0,259.0 1462.0,252.0 1474.0,250.0 1488.0,242.0 1500.0,246.0 1510.0,250.0 1520.0,252.0 1534.0,253.0 1546.0,250.0 1558.0,248.0 1562.0,254.0 1570.0,260.0 1580.0,264.0 1570.0,270.0 1562.0,274.0 1558.0,282.0 1552.0,290.0 1542.0,296.0 1530.0,294.0 1516.0,292.0 1504.0,292.0 1496.0,286.0 1484.0,284.0 1476.0,280.0 1472.0,272.0 1466.0,266.0 1458.0,262.0Z"/>
<path fill="#f37336" stroke="#f37336" stroke-width="0.7" d="M1450.0,260.0 1456.0,260.0 1466.0,266.0 1472.0,272.0 1476.0,280.0 1484.0,284.0 1496.0,286.0 1504.0,292.0 1516.0,292.0 1530.0,294.0 1542.0,296.0 1552.0,290.0 1558.0,282.0 1562.0,274.0 1570.0,270.0 1580.0,264.0 1570.0,260.0 1562.0,254.0 1562.0,244.0 1562.0,230.0 1570.0,226.0 1582.0,228.0 1594.0,236.0 1602.0,244.0 1610.0,248.0 1622.0,250.0 1630.0,250.0 1634.0,260.0 1636.0,268.0 1636.0,278.0 1626.0,284.0 1624.0,294.0 1616.0,298.0 1608.0,304.0 1602.0,310.0 1604.0,318.0 1614.0,322.0 1616.0,330.0 1620.0,340.0 1626.0,350.0 1630.0,358.0 1634.0,366.0 1634.0,378.0 1630.0,386.0 1624.0,394.0 1620.0,402.0 1610.0,418.0 1530.0,418.0 1526.0,410.0 1514.0,380.0 1502.0,378.0 1490.0,374.0 1474.0,370.0 1464.0,364.0 1456.0,354.0 1452.0,348.0 1450.0,342.0 1446.0,338.0 1436.0,338.0 1430.0,332.0 1426.0,326.0 1422.0,314.0 1426.0,306.0 1430.0,298.0 1440.0,294.0 1438.0,284.0 1442.0,278.0 1442.0,272.0Z"/>
<path fill="#f37336" stroke="#f37336" stroke-width="0.7" d="M1603.0,298.5 1600.0,306.0 1598.5,310.5 1604.5,312.0 1609.0,316.5 1615.0,319.5 1621.0,318.8 1615.0,324.0 1614.2,330.0 1618.0,334.5 1622.5,339.0 1627.0,345.0 1627.0,349.5 1631.5,351.0 1633.0,355.5 1630.0,360.0 1636.0,363.0 1637.5,369.0 1636.0,375.0 1634.5,381.0 1633.0,390.0 1628.5,397.5 1624.0,402.0 1618.0,405.0 1612.0,406.5 1606.0,411.0 1601.5,414.0 1597.0,415.5 1591.0,414.0 1586.5,411.0 1582.0,408.0 1576.0,405.0 1570.0,408.0 1564.0,411.0 1559.5,414.0 1555.0,409.5 1549.0,403.5 1544.5,397.5 1543.0,390.0 1543.0,384.0 1537.0,376.5 1531.0,372.0 1525.0,370.5 1516.0,375.0 1507.0,378.0 1495.0,379.5 1486.0,378.0 1478.5,376.5 1478.5,298.5Z"/>
<path fill="#b02c33" stroke="#b02c33" stroke-width="0.7" d="M1621.0,300.0 1637.5,300.0 1640.5,309.0 1636.0,312.0 1631.5,313.5 1627.0,309.0 1622.5,304.5Z"/>
<path fill="#f7a236" stroke="#f7a236" stroke-width="0.7" d="M1636.0,312.0 1642.0,309.0 1648.0,315.0 1652.5,322.5 1654.0,328.5 1648.0,331.5 1643.5,333.0 1640.5,327.0 1637.5,319.5Z"/>
<path fill="#fbb92f" stroke="#fbb92f" stroke-width="0.7" d="M1667.5,263.8 1675.0,265.0 1687.5,272.5 1688.8,280.0 1680.0,282.5 1675.0,280.0 1670.0,275.0Z"/>
<path fill="#fbb92f" stroke="#fbb92f" stroke-width="0.7" d="M1675.0,282.5 1682.5,285.0 1687.5,295.0 1692.5,305.0 1696.2,317.5 1695.0,327.5 1687.5,330.0 1680.0,335.0 1672.5,340.0 1667.5,345.0 1670.0,350.0 1665.0,350.0 1661.2,340.0 1665.0,335.0 1672.5,330.0 1680.0,325.0 1685.0,320.0 1685.0,310.0 1680.0,300.0 1675.0,290.0Z"/>
<path fill="#fbb92f" stroke="#fbb92f" stroke-width="0.7" d="M1661.2,340.0 1667.5,340.0 1670.0,350.0 1665.0,352.5Z"/>
<path fill="#f7a236" stroke="#f7a236" stroke-width="0.7" d="M1643.5,391.5 1646.5,390.0 1648.0,397.5 1646.5,408.0 1643.5,402.0Z"/>
<path fill="#f37336" stroke="#f37336" stroke-width="0.7" d="M1598.5,424.5 1604.5,423.0 1606.8,427.5 1603.0,433.5 1598.5,430.5Z"/>
<path fill="#b02c33" stroke="#b02c33" stroke-width="0.7" d="M1537.0,376.5 1543.0,384.0 1543.0,390.0 1544.5,397.5 1549.0,403.5 1555.0,409.5 1559.5,415.5 1556.5,420.0 1550.5,426.0 1549.0,433.5 1552.0,442.5 1555.0,451.5 1537.0,451.5 1535.5,442.5 1531.0,432.0 1525.0,421.5 1523.5,414.0 1525.0,405.0 1528.0,397.5 1529.5,387.0 1534.0,381.0Z"/>
<path fill="#fbb92f" stroke="#fbb92f" stroke-width="0.7" d="M1501.0,381.0 1505.5,378.0 1511.5,379.5 1514.5,385.5 1510.0,387.0 1502.5,386.2Z"/>
<path fill="#fbb92f" stroke="#fbb92f" stroke-width="0.7" d="M1668.0,264.0 1676.0,270.0 1684.0,272.0 1690.0,274.0 1686.0,280.0 1680.0,278.0 1676.0,282.0 1674.0,278.0 1670.0,272.0Z"/>
<path fill="#fbb92f" stroke="#fbb92f" stroke-width="0.7" d="M1674.0,282.0 1680.0,280.0 1684.0,288.0 1688.0,296.0 1692.0,302.0 1684.0,302.0 1680.0,294.0 1676.0,288.0Z"/>
<path fill="#ef4e38" stroke="#ef4e38" stroke-width="0.7" d="M1418.5,383.0 1423.0,378.5 1495.0,378.5 1499.5,389.0 1502.5,398.0 1504.0,407.0 1507.0,414.5 1499.5,417.5 1498.0,425.0 1495.0,431.0 1489.0,437.0 1483.0,443.0 1478.5,449.0 1474.0,453.5 1473.3,462.5 1474.0,473.0 1474.0,482.0 1471.0,488.0 1466.5,494.0 1463.5,495.5 1460.5,489.5 1456.0,479.0 1451.5,468.5 1447.0,458.0 1442.5,446.0 1439.5,435.5 1436.5,425.0 1435.0,417.5 1432.0,422.0 1427.5,423.5 1423.0,419.0 1420.0,414.5 1423.0,411.5 1418.5,410.0 1415.5,405.5 1414.0,399.5 1418.5,395.0 1417.0,389.0Z"/>
<path fill="#ef4e38" stroke="#ef4e38" stroke-width="0.7" d="M1418.0,332.5 1425.5,331.0 1433.0,337.0 1436.0,343.0 1440.5,338.5 1445.0,337.0 1452.5,340.0 1454.0,346.0 1451.0,355.0 1460.0,364.0 1467.5,370.0 1475.0,376.0 1484.0,379.0 1493.0,382.0 1499.0,385.0 1502.0,394.0 1508.0,394.0 1514.0,397.0 1520.0,400.0 1520.0,431.5 1430.0,431.5 1427.0,370.0 1433.0,364.0 1430.0,358.0 1427.0,352.0 1430.0,346.0Z"/>
<path fill="#df3335" stroke="#df3335" stroke-width="0.7" d="M1501.0,390.0 1510.0,393.0 1516.0,397.5 1519.0,403.5 1517.5,411.0 1513.0,414.0 1510.0,411.0 1507.0,405.0 1502.5,399.0Z"/>
<path fill="#ef4e38" stroke="#ef4e38" stroke-width="0.7" d="M1480.0,378.0 1495.0,379.5 1507.0,378.0 1516.0,375.0 1525.0,370.5 1531.0,372.0 1537.0,376.5 1534.0,381.0 1529.5,387.0 1528.0,397.5 1525.0,405.0 1523.5,414.0 1520.5,414.0 1517.5,405.0 1514.5,396.0 1510.0,391.5 1501.0,390.0 1495.0,390.0 1489.0,393.0 1480.0,396.0Z"/>
<path fill="#ef4e38" stroke="#ef4e38" stroke-width="0.7" d="M1476.3,488.0 1480.0,486.5 1483.8,495.5 1485.3,503.0 1481.5,507.5 1477.8,506.0 1476.3,498.5Z"/>
<path fill="#f58b35" stroke="#f58b35" stroke-width="0.7" d="M1345.0,407.0 1351.0,408.5 1357.0,399.5 1360.0,395.0 1361.5,402.5 1369.0,410.0 1378.0,416.0 1373.5,425.0 1370.5,431.0 1366.0,437.0 1360.0,443.0 1351.0,446.0 1346.5,437.0 1339.0,431.0 1328.5,434.0 1328.5,413.0 1339.0,410.0Z"/>
<path fill="#f7a236" stroke="#f7a236" stroke-width="0.7" d="M1343.5,407.0 1352.5,408.5 1358.5,399.5 1360.0,404.0 1357.0,413.0 1348.0,411.5Z"/>
<path fill="#b02c33" stroke="#b02c33" stroke-width="0.7" d="M1328.5,437.0 1345.0,435.5 1351.0,446.0 1348.0,450.5 1339.0,456.5 1328.5,461.0Z"/>
<path fill="#ef4e38" stroke="#ef4e38" stroke-width="0.7" d="M1549.0,429.0 1559.5,423.0 1565.5,429.0 1570.0,435.0 1576.0,433.5 1585.0,441.0 1588.0,450.0 1585.0,456.0 1576.0,459.0 1574.5,465.0 1570.0,466.5 1567.0,463.5 1564.0,463.5 1564.0,469.5 1562.5,478.5 1561.0,483.0 1562.5,490.5 1567.0,498.0 1570.0,504.0 1573.0,507.0 1568.5,505.5 1564.0,501.0 1561.0,495.0 1559.5,489.0 1561.0,480.0 1561.8,477.0 1561.0,469.5 1558.0,462.0 1555.0,453.0 1553.5,442.5 1550.5,435.0Z"/>
<path fill="#ef4e38" stroke="#ef4e38" stroke-width="0.7" d="M1559.5,414.0 1564.0,411.0 1570.0,408.0 1576.0,405.0 1582.0,408.0 1588.0,414.0 1585.0,420.0 1582.0,427.5 1585.0,435.0 1591.0,442.5 1597.0,450.0 1576.0,451.5 1570.0,435.0 1564.0,427.5 1556.5,420.0Z"/>
<path fill="#b02c33" stroke="#b02c33" stroke-width="0.7" d="M1523.5,418.5 1558.0,418.5 1555.0,423.0 1549.0,429.0 1550.5,435.0 1553.5,442.5 1555.0,453.0 1558.0,462.0 1561.0,469.5 1561.8,477.0 1559.5,480.0 1558.0,472.5 1555.0,465.0 1552.0,457.5 1547.5,450.0 1541.5,448.5 1537.0,447.0 1535.5,438.0 1531.0,429.0Z"/>
<path fill="#df3335" stroke="#df3335" stroke-width="0.7" d="M1576.0,459.0 1585.0,456.0 1594.0,457.5 1598.5,462.0 1598.5,468.0 1594.0,474.0 1588.0,478.5 1582.0,477.0 1577.5,471.0 1576.0,465.0Z"/>
<path fill="#f37336" stroke="#f37336" stroke-width="0.7" d="M1577.5,418.5 1586.5,418.5 1585.0,427.5 1582.0,430.5 1588.0,438.0 1595.5,445.5 1601.5,451.5 1606.0,459.0 1606.8,468.0 1603.0,474.0 1597.0,480.0 1592.5,484.5 1589.5,490.5 1588.0,483.0 1591.0,480.0 1594.0,474.0 1598.5,468.0 1598.5,462.0 1595.5,454.5 1591.0,447.0 1585.0,441.0 1580.5,432.0Z"/>
<path fill="#f37336" stroke="#f37336" stroke-width="0.7" d="M1564.0,411.0 1570.0,408.0 1576.0,405.0 1582.0,408.0 1586.5,411.0 1591.0,414.0 1585.0,420.0 1582.0,427.5 1585.0,435.0 1591.0,442.5 1597.0,450.0 1588.0,450.0 1582.0,444.0 1579.0,435.0 1574.5,429.0 1570.0,423.0 1565.5,418.5Z"/>
<path fill="#f58b35" stroke="#f58b35" stroke-width="0.7" d="M1568.5,504.0 1573.0,505.5 1577.5,507.0 1582.0,513.0 1583.5,522.0 1586.5,529.5 1588.0,534.0 1585.0,535.5 1582.0,531.0 1577.5,525.0 1573.0,519.0 1570.0,511.5Z"/>
<path fill="#ef4e38" stroke="#ef4e38" stroke-width="0.7" d="M1547.0,509.0 1557.0,511.0 1567.0,516.0 1576.0,522.0 1582.0,527.0 1586.0,534.0 1590.0,542.0 1593.0,550.0 1595.0,562.0 1596.0,570.0 1594.0,576.0 1590.0,572.0 1582.0,559.0 1573.0,546.0 1563.0,533.0 1554.0,521.0 1548.0,514.0Z"/>
<path fill="#ef4e38" stroke="#ef4e38" stroke-width="0.7" d="M1594.0,578.0 1608.0,582.0 1624.0,585.5 1640.0,590.0 1653.0,592.5 1661.0,594.0 1660.0,597.5 1640.0,596.0 1624.0,593.0 1608.0,590.0 1595.0,585.0Z"/>
<path fill="#ef4e38" stroke="#ef4e38" stroke-width="0.7" d="M1697.0,590.0 1703.0,586.0 1710.0,585.0 1712.0,590.0 1705.0,596.0 1699.0,597.0Z"/>
<path fill="#ef4e38" stroke="#ef4e38" stroke-width="0.7" d="M1712.0,584.0 1718.0,579.0 1726.0,578.0 1724.0,585.0 1716.0,590.0Z"/>
<path fill="#f58b35" stroke="#f58b35" stroke-width="0.7" d="M1612.0,531.0 1621.0,526.5 1628.5,522.0 1634.5,516.0 1639.0,510.0 1642.0,504.0 1645.0,501.0 1649.5,507.0 1655.5,510.0 1649.5,513.0 1646.5,517.5 1639.0,517.5 1637.5,525.0 1634.5,531.0 1627.0,534.0 1621.0,535.5 1615.0,535.5Z"/>
<path fill="#ef4e38" stroke="#ef4e38" stroke-width="0.7" d="M1610.5,534.0 1615.0,535.5 1621.0,535.5 1627.0,534.0 1634.5,531.0 1637.5,525.0 1639.0,517.5 1646.5,517.5 1651.0,525.0 1651.0,531.0 1655.5,535.5 1651.0,537.0 1646.5,543.0 1645.0,552.0 1643.5,561.0 1640.5,565.5 1634.5,564.0 1628.5,561.0 1624.0,562.5 1618.0,558.0 1615.0,550.5 1612.0,543.0Z"/>
<path fill="#ef4e38" stroke="#ef4e38" stroke-width="0.7" d="M1660.0,538.5 1669.0,535.5 1679.5,534.0 1684.0,532.5 1679.5,538.5 1672.0,540.0 1666.0,541.5 1664.5,547.5 1672.0,549.0 1675.0,547.5 1669.0,553.5 1666.0,558.0 1669.0,565.5 1667.5,571.5 1657.0,571.5 1658.5,562.5 1657.0,555.0 1660.0,547.5Z"/>
<path fill="#ef4e38" stroke="#ef4e38" stroke-width="0.7" d="M1652.5,430.5 1658.5,432.0 1661.5,441.0 1660.0,450.0 1660.0,457.5 1663.0,462.0 1660.0,465.0 1657.0,459.0 1654.0,453.0 1651.0,444.0 1652.5,436.5Z"/>
<path fill="#ef4e38" stroke="#ef4e38" stroke-width="0.7" d="M1672.0,490.5 1681.0,486.0 1685.5,490.5 1688.5,496.5 1685.5,504.0 1681.0,507.0 1676.5,501.0 1670.5,499.5 1669.0,495.0Z"/>
<path fill="#ef4e38" stroke="#ef4e38" stroke-width="0.7" d="M1664.5,465.0 1672.0,459.0 1679.5,465.0 1681.0,474.0 1676.5,483.0 1670.5,483.0 1667.5,475.5 1666.0,471.0Z"/>
<path fill="#ef4e38" stroke="#ef4e38" stroke-width="0.7" d="M1646.5,489.0 1654.0,477.0 1655.5,478.5 1648.0,490.5Z"/>
<path fill="#ef4e38" stroke="#ef4e38" stroke-width="0.7" d="M1694.5,528.0 1699.0,526.5 1699.8,537.0 1697.5,547.5 1694.5,544.5 1696.0,537.0Z"/>
<path fill="#f58b35" stroke="#f58b35" stroke-width="0.7" d="M1081.0,300.5 1090.0,299.0 1100.5,299.0 1111.0,300.5 1120.0,302.0 1129.0,305.0 1126.0,309.5 1120.0,314.0 1117.0,320.0 1114.0,326.0 1109.5,332.0 1105.0,336.5 1096.0,338.0 1091.5,339.5 1088.5,335.0 1082.5,333.5 1079.5,327.5 1078.0,321.5 1081.0,315.5 1082.5,308.0Z"/>
<path fill="#f7a236" stroke="#f7a236" stroke-width="0.7" d="M1114.0,288.5 1144.0,288.5 1147.0,296.0 1138.0,299.0 1132.0,300.5 1129.0,305.0 1120.0,302.0 1114.0,299.0 1112.5,294.5Z"/>
<path fill="#f58b35" stroke="#f58b35" stroke-width="0.7" d="M1201.0,311.0 1210.0,309.5 1219.0,311.0 1225.0,309.5 1223.5,314.0 1216.0,315.5 1211.5,318.5 1214.5,323.0 1217.5,329.0 1213.0,335.0 1208.5,333.5 1205.5,327.5 1204.0,321.5 1201.0,317.0Z"/>
<path fill="#f37336" stroke="#f37336" stroke-width="0.7" d="M1195.0,299.0 1201.0,297.5 1207.0,299.0 1210.0,305.0 1210.0,309.5 1201.0,311.0 1199.5,306.5Z"/>
<path fill="#ef4e38" stroke="#ef4e38" stroke-width="0.7" d="M1192.0,296.0 1201.0,294.5 1210.0,293.0 1219.0,296.0 1225.0,294.5 1225.0,305.0 1219.0,309.5 1210.0,309.5 1208.5,303.5 1201.0,297.5 1195.0,299.0Z"/>
<path fill="#f58b35" stroke="#f58b35" stroke-width="0.7" d="M1216.0,344.8 1225.0,344.3 1224.2,346.2 1216.8,346.6Z"/>
<path fill="#f58b35" stroke="#f58b35" stroke-width="0.7" d="M1252.0,345.5 1258.0,344.0 1258.0,347.0 1253.5,347.8Z"/>
<path fill="#ef4e38" stroke="#ef4e38" stroke-width="0.7" d="M1226.5,318.5 1232.5,312.5 1240.0,311.0 1247.5,308.0 1255.0,308.8 1264.0,308.8 1273.0,307.2 1285.0,305.8 1294.0,306.5 1300.0,311.0 1304.5,317.0 1300.0,323.0 1298.5,329.0 1294.0,333.5 1285.0,335.0 1276.0,336.5 1267.0,338.0 1261.0,336.5 1255.0,338.0 1246.0,339.5 1240.0,338.0 1234.0,335.0 1229.5,329.0 1228.0,323.0Z"/>
<path fill="#ef4e38" stroke="#ef4e38" stroke-width="0.7" d="M1225.0,309.5 1229.5,306.5 1232.5,309.5 1228.0,312.5Z"/>
<path fill="#df3335" stroke="#df3335" stroke-width="0.7" d="M1094.5,341.0 1108.0,339.5 1120.0,338.0 1135.0,336.5 1150.0,335.0 1157.5,335.0 1160.5,339.5 1159.0,347.0 1162.0,353.0 1159.0,359.0 1171.0,359.0 1180.0,363.5 1187.5,368.0 1196.5,372.5 1201.0,363.5 1207.0,359.0 1214.5,360.5 1222.0,363.5 1232.5,368.0 1244.5,368.0 1252.0,366.5 1262.5,368.0 1264.0,377.0 1264.0,386.0 1261.0,387.5 1270.0,404.0 1276.0,414.5 1279.0,419.0 1282.0,441.5 1039.0,441.5 1039.0,423.5 1042.0,413.0 1048.0,402.5 1052.5,395.0 1058.5,387.5 1064.5,380.0 1072.0,372.5 1075.0,363.5 1079.5,356.0 1087.0,350.0 1093.0,345.5Z"/>
<path fill="#df3335" stroke="#df3335" stroke-width="0.7" d="M1040.5,428.5 1039.0,437.5 1039.0,445.0 1036.0,452.5 1036.0,460.0 1037.5,469.0 1039.0,475.0 1045.0,479.5 1052.5,490.0 1055.5,497.5 1063.0,505.0 1070.5,511.0 1076.5,517.0 1084.0,514.0 1093.0,514.0 1103.5,514.0 1114.0,509.5 1123.0,508.0 1132.0,508.0 1136.5,512.5 1138.0,517.0 1147.0,518.5 1151.5,517.0 1154.5,523.0 1153.0,532.0 1156.0,535.0 1154.5,541.0 1156.0,550.0 1160.5,557.5 1165.0,565.0 1168.0,572.5 1169.5,581.5 1291.0,581.5 1291.0,571.0 1294.0,562.0 1298.5,553.0 1301.5,545.5 1307.5,535.0 1315.0,523.0 1322.5,514.0 1338.0,500.1 1343.0,487.0 1343.5,475.0 1328.0,479.1 1314.0,482.9 1309.0,476.9 1306.0,470.1 1296.0,458.9 1289.0,448.0 1280.0,437.1 1276.0,428.5Z"/>
<path fill="#df3335" stroke="#df3335" stroke-width="0.7" d="M1160.0,558.0 1166.0,566.0 1168.0,574.0 1172.0,590.0 1174.0,606.0 1170.0,616.0 1168.0,628.0 1166.0,638.0 1170.0,648.0 1176.0,660.0 1180.0,676.0 1182.0,690.0 1186.0,700.0 1190.0,708.0 1192.0,720.0 1194.0,730.0 1200.0,736.0 1208.0,734.0 1220.0,732.0 1228.0,730.0 1236.0,724.0 1244.0,716.0 1250.0,708.0 1254.0,700.0 1258.0,692.0 1258.0,686.0 1264.0,682.0 1270.0,678.0 1270.0,668.0 1268.0,658.0 1270.0,652.0 1278.0,644.0 1284.0,638.0 1292.0,634.0 1296.0,626.0 1296.0,616.0 1296.0,602.0 1292.0,592.0 1290.0,580.0 1292.0,570.0 1294.0,558.0Z"/>
<path fill="#ef4e38" stroke="#ef4e38" stroke-width="0.7" d="M1094.5,341.0 1102.0,344.0 1108.0,345.5 1109.5,353.0 1108.0,359.0 1102.0,363.5 1096.0,365.0 1093.0,371.0 1087.0,375.5 1078.0,380.0 1069.0,384.5 1060.0,386.0 1064.5,380.0 1072.0,372.5 1075.0,363.5 1079.5,356.0 1087.0,350.0 1093.0,345.5Z"/>
<path fill="#e1e2e2" stroke="#e1e2e2" stroke-width="0.7" d="M1058.5,387.5 1076.5,387.5 1076.5,396.5 1061.5,396.5 1057.0,411.5 1055.5,420.5 1039.0,422.0 1042.0,413.0 1048.0,402.5 1052.5,395.0Z"/>
<path fill="#ef4e38" stroke="#ef4e38" stroke-width="0.7" d="M1061.5,396.5 1076.5,396.5 1076.5,390.5 1087.0,401.0 1085.5,441.5 1040.5,441.5 1039.0,423.5 1055.5,422.0 1057.0,411.5Z"/>
<path fill="#ef4e38" stroke="#ef4e38" stroke-width="0.7" d="M1094.5,341.0 1108.0,339.5 1120.0,338.0 1135.0,336.5 1150.0,335.0 1153.0,344.0 1148.5,353.0 1150.0,360.5 1156.0,371.0 1159.0,380.0 1156.0,395.0 1160.5,407.0 1165.0,411.5 1153.0,419.0 1144.0,425.0 1135.0,431.0 1127.5,434.0 1123.0,431.0 1114.0,423.5 1102.0,413.0 1087.0,402.5 1076.5,390.5 1078.0,380.0 1087.0,375.5 1093.0,371.0 1096.0,365.0 1102.0,363.5 1108.0,359.0 1109.5,353.0 1108.0,345.5 1102.0,344.0Z"/>
<path fill="#ef4e38" stroke="#ef4e38" stroke-width="0.7" d="M1150.0,335.0 1157.5,335.0 1160.5,339.5 1159.0,347.0 1162.0,353.0 1159.0,359.0 1156.0,371.0 1150.0,360.5 1148.5,353.0 1153.0,344.0Z"/>
<path fill="#b02c33" stroke="#b02c33" stroke-width="0.7" d="M1159.0,359.0 1171.0,359.0 1180.0,363.5 1187.5,368.0 1196.5,372.5 1201.0,363.5 1207.0,359.0 1214.5,360.5 1222.0,363.5 1223.5,431.0 1216.0,428.0 1199.5,420.5 1181.5,411.5 1177.0,414.5 1165.0,410.0 1160.5,407.0 1156.0,395.0 1159.0,380.0 1156.0,371.0Z"/>
<path fill="#ef4e38" stroke="#ef4e38" stroke-width="0.7" d="M1222.0,363.5 1232.5,368.0 1244.5,368.0 1252.0,366.5 1262.5,368.0 1264.0,377.0 1264.0,386.0 1261.0,383.0 1256.5,375.5 1261.0,387.5 1270.0,404.0 1276.0,414.5 1270.0,416.0 1264.0,419.0 1225.0,419.0 1223.5,395.0Z"/>
<path fill="#ef4e38" stroke="#ef4e38" stroke-width="0.7" d="M1255.8,368.0 1262.5,368.0 1264.0,377.0 1264.0,386.0 1261.0,383.0Z"/>
<path fill="#e1e2e2" stroke="#e1e2e2" stroke-width="0.7" d="M1264.0,416.0 1276.0,415.2 1279.0,419.0 1264.0,419.3Z"/>
<path fill="#b02c33" stroke="#b02c33" stroke-width="0.7" d="M1223.5,419.0 1264.0,419.0 1279.0,419.0 1282.0,441.5 1222.0,441.5Z"/>
<path fill="#ef4e38" stroke="#ef4e38" stroke-width="0.7" d="M1135.0,431.0 1144.0,425.0 1153.0,419.0 1165.0,411.5 1177.0,414.5 1181.5,411.5 1180.0,425.0 1183.0,441.5 1133.5,441.5Z"/>
<path fill="#ef4e38" stroke="#ef4e38" stroke-width="0.7" d="M1040.5,428.5 1088.5,428.5 1087.8,454.8 1061.5,455.5 1058.5,458.5 1048.0,449.5 1039.0,445.0Z"/>
<path fill="#f37336" stroke="#f37336" stroke-width="0.7" d="M1036.0,452.5 1048.0,449.5 1058.5,458.5 1060.0,470.5 1049.5,469.0 1039.0,467.5 1036.0,460.0Z"/>
<path fill="#ef4e38" stroke="#ef4e38" stroke-width="0.7" d="M1052.5,490.0 1057.0,486.2 1063.0,488.5 1064.5,496.0 1061.5,500.5 1055.5,497.5Z"/>
<path fill="#f37336" stroke="#f37336" stroke-width="0.7" d="M1075.0,485.5 1082.5,482.5 1090.0,487.0 1096.0,487.0 1099.0,490.0 1100.5,499.0 1099.0,508.0 1100.5,514.0 1093.0,514.0 1084.0,514.0 1076.5,517.0 1075.0,505.0 1073.5,497.5Z"/>
<path fill="#f37336" stroke="#f37336" stroke-width="0.7" d="M1099.0,481.0 1112.5,481.0 1117.0,487.0 1117.0,499.0 1118.5,506.5 1114.0,509.5 1103.5,514.0 1100.5,514.0 1099.0,508.0 1100.5,499.0 1099.0,490.0Z"/>
<path fill="#f37336" stroke="#f37336" stroke-width="0.7" d="M1088.5,479.5 1093.0,469.0 1099.0,463.0 1109.5,459.2 1114.0,464.5 1120.0,472.0 1126.0,475.0 1123.0,479.5 1114.0,479.5 1100.5,481.0 1094.5,485.5Z"/>
<path fill="#f37336" stroke="#f37336" stroke-width="0.7" d="M1117.0,479.5 1123.0,475.0 1127.5,476.5 1129.0,484.0 1126.0,491.5 1124.5,505.0 1120.0,508.0 1118.5,499.0 1117.8,487.0Z"/>
<path fill="#ef4e38" stroke="#ef4e38" stroke-width="0.7" d="M1132.0,428.5 1183.0,428.5 1181.5,445.0 1174.0,460.0 1174.0,466.0 1165.0,469.0 1154.5,467.5 1144.0,466.0 1133.5,466.0 1129.0,472.0 1123.0,475.0 1114.0,464.5 1117.0,460.0 1127.5,434.5Z"/>
<path fill="#b02c33" stroke="#b02c33" stroke-width="0.7" d="M1220.5,428.5 1282.0,428.5 1285.0,439.0 1279.0,446.5 1277.5,460.0 1270.0,475.0 1267.0,487.0 1259.5,475.0 1255.0,487.0 1244.5,487.0 1231.0,485.5 1223.5,493.0 1214.5,479.5 1213.0,469.0 1217.5,455.5 1219.0,445.0Z"/>
<path fill="#8a2a2c" stroke="#8a2a2c" stroke-width="0.7" d="M1223.5,493.0 1231.0,485.5 1244.5,487.0 1255.0,487.0 1259.5,475.0 1267.0,487.0 1264.0,496.0 1270.0,508.0 1273.0,515.5 1262.5,520.0 1252.0,521.5 1243.0,517.0 1237.0,511.0 1231.0,502.0Z"/>
<path fill="#b02c33" stroke="#b02c33" stroke-width="0.7" d="M1277.5,445.0 1285.0,442.0 1294.0,452.5 1304.5,464.5 1307.5,472.0 1300.0,467.5 1285.0,463.0 1279.0,460.0Z"/>
<path fill="#ef4e38" stroke="#ef4e38" stroke-width="0.7" d="M1277.5,460.0 1285.0,463.0 1300.0,467.5 1307.5,472.0 1309.0,478.0 1313.5,484.0 1324.0,490.0 1330.0,493.0 1322.5,502.0 1312.0,511.0 1303.0,520.0 1291.0,521.5 1283.5,517.0 1273.0,515.5 1270.0,508.0 1264.0,496.0 1267.0,487.0 1270.0,475.0Z"/>
<path fill="#8a2a2c" stroke="#8a2a2c" stroke-width="0.7" d="M1309.0,478.0 1314.0,482.9 1328.0,479.1 1343.0,475.0 1343.5,487.0 1338.0,500.1 1322.5,514.0 1315.0,523.0 1307.5,535.0 1301.5,545.5 1298.5,553.0 1300.0,526.0 1303.0,520.0 1312.0,511.0 1322.5,502.0 1330.0,493.0 1324.0,490.0 1313.5,484.0Z"/>
<path fill="#ef4e38" stroke="#ef4e38" stroke-width="0.7" d="M1267.0,517.0 1273.0,515.5 1283.5,517.0 1291.0,521.5 1303.0,520.0 1300.0,526.0 1298.5,553.0 1294.0,562.0 1291.0,571.0 1285.0,565.0 1270.0,556.0 1268.5,547.0 1270.0,532.0Z"/>
<path fill="#f58b35" stroke="#f58b35" stroke-width="0.7" d="M1244.5,550.0 1252.0,548.5 1253.5,556.0 1246.0,557.5Z"/>
<path fill="#b02c33" stroke="#b02c33" stroke-width="0.7" d="M1246.0,557.5 1252.0,557.5 1250.5,566.5 1246.8,565.8Z"/>
<path fill="#f37336" stroke="#f37336" stroke-width="0.7" d="M1246.0,565.0 1252.0,557.5 1253.5,548.5 1270.0,547.0 1270.0,556.0 1285.0,565.0 1291.0,571.0 1291.0,581.5 1246.0,581.5Z"/>
<path fill="#b02c33" stroke="#b02c33" stroke-width="0.7" d="M1156.0,530.5 1163.5,530.5 1163.5,536.5 1156.0,536.5Z"/>
<path fill="#b02c33" stroke="#b02c33" stroke-width="0.7" d="M1306.0,445.0 1312.0,444.0 1326.0,446.0 1332.0,438.0 1346.0,436.0 1351.0,447.0 1348.0,451.0 1347.0,454.0 1340.0,458.0 1332.0,462.0 1326.0,465.0 1318.0,468.0 1312.0,470.0 1309.0,471.0 1307.0,463.0 1306.0,455.0Z"/>
<path fill="#f58b35" stroke="#f58b35" stroke-width="0.7" d="M1346.0,436.0 1358.0,430.0 1360.0,415.0 1358.0,402.0 1360.0,399.0 1365.0,408.0 1373.0,410.0 1378.0,415.0 1376.0,422.0 1374.0,426.0 1371.0,429.0 1370.0,434.0 1366.0,438.0 1362.0,442.0 1358.0,445.0 1351.0,447.0Z"/>
<path fill="#ef4e38" stroke="#ef4e38" stroke-width="0.7" d="M1302.0,472.0 1308.0,472.0 1309.0,475.0 1306.0,479.0 1302.0,479.0Z"/>
<path fill="#b02c33" stroke="#b02c33" stroke-width="0.7" d="M1354.0,470.5 1359.0,471.0 1358.5,472.2 1354.5,472.0Z"/>
<path fill="#ef4e38" stroke="#ef4e38" stroke-width="0.7" d="M1168.0,574.0 1188.0,576.0 1192.0,586.0 1202.0,582.0 1210.0,582.0 1212.0,600.0 1220.0,604.0 1220.0,614.0 1212.0,616.0 1212.0,626.0 1216.0,640.0 1206.0,642.0 1196.0,640.0 1186.0,638.0 1174.0,638.0 1166.0,638.0 1168.0,628.0 1170.0,616.0 1174.0,606.0 1172.0,590.0Z"/>
<path fill="#ef4e38" stroke="#ef4e38" stroke-width="0.7" d="M1212.0,616.0 1222.0,606.0 1234.0,608.0 1246.0,616.0 1242.0,594.0 1252.0,590.0 1260.0,596.0 1264.0,608.0 1262.0,620.0 1250.0,626.0 1248.0,630.0 1240.0,636.0 1234.0,642.0 1228.0,642.0 1220.0,640.0 1216.0,640.0 1212.0,626.0Z"/>
<path fill="#f37336" stroke="#f37336" stroke-width="0.7" d="M1248.0,558.0 1290.0,558.0 1292.0,570.0 1290.0,580.0 1292.0,592.0 1296.0,602.0 1280.0,607.0 1270.0,608.0 1264.0,608.0 1260.0,596.0 1252.0,590.0 1246.0,574.0Z"/>
<path fill="#ef4e38" stroke="#ef4e38" stroke-width="0.7" d="M1264.0,598.0 1269.0,598.0 1270.0,618.0 1274.0,626.0 1272.0,636.0 1268.0,632.0 1264.0,624.0 1262.0,614.0Z"/>
<path fill="#f37336" stroke="#f37336" stroke-width="0.7" d="M1166.0,638.0 1186.0,638.0 1196.0,640.0 1206.0,642.0 1216.0,640.0 1224.0,642.0 1218.0,644.0 1206.0,644.0 1202.0,662.0 1202.0,702.0 1196.0,704.0 1188.0,700.0 1186.0,700.0 1182.0,690.0 1180.0,676.0 1176.0,660.0 1170.0,648.0Z"/>
<path fill="#f58b35" stroke="#f58b35" stroke-width="0.7" d="M1206.0,644.0 1218.0,644.0 1226.0,642.0 1232.0,652.0 1238.0,662.0 1244.0,666.0 1236.0,672.0 1232.0,680.0 1224.0,686.0 1216.0,684.0 1208.0,692.0 1204.0,688.0 1202.0,676.0 1202.0,662.0Z"/>
<path fill="#f37336" stroke="#f37336" stroke-width="0.7" d="M1188.0,700.0 1196.0,704.0 1202.0,702.0 1204.0,688.0 1208.0,692.0 1216.0,684.0 1224.0,686.0 1232.0,680.0 1236.0,672.0 1244.0,666.0 1252.0,666.0 1254.0,684.0 1256.0,692.0 1258.0,692.0 1254.0,700.0 1250.0,708.0 1244.0,716.0 1236.0,724.0 1228.0,730.0 1220.0,732.0 1208.0,734.0 1200.0,736.0 1194.0,730.0 1192.0,720.0 1190.0,708.0Z"/>
<path fill="#ef4e38" stroke="#ef4e38" stroke-width="0.7" d="M1232.0,708.0 1238.0,702.0 1242.4,708.0 1236.4,714.0Z"/>
<path fill="#ef4e38" stroke="#ef4e38" stroke-width="0.7" d="M1248.0,690.0 1252.0,686.0 1254.4,692.0 1251.0,695.4Z"/>
<path fill="#df3335" stroke="#df3335" stroke-width="0.7" d="M1308.0,660.0 1312.0,636.0 1320.0,630.0 1328.0,620.0 1334.0,612.0 1338.0,620.0 1340.0,630.0 1336.0,640.0 1332.0,652.0 1328.0,664.0 1324.0,676.0 1320.0,684.0 1312.0,686.0 1308.0,680.0 1306.0,670.0Z"/>
<path fill="#ef4e38" stroke="#ef4e38" stroke-width="0.7" d="M1222.0,363.0 1232.0,368.0 1244.0,368.0 1252.0,366.0 1262.0,368.0 1263.0,385.0 1267.0,395.0 1270.0,406.0 1271.0,414.0 1272.0,419.0 1225.0,419.0 1223.0,395.0Z"/>
<path fill="#b02c33" stroke="#b02c33" stroke-width="0.7" d="M1223.0,419.0 1272.0,419.0 1276.0,419.0 1279.0,426.0 1280.0,435.0 1283.0,440.0 1287.0,445.0 1289.0,448.0 1290.0,452.0 1223.0,452.0Z"/>
<path fill="#e1e2e2" stroke="#e1e2e2" stroke-width="0.7" d="M1263.0,416.0 1274.0,416.0 1277.0,421.0 1263.0,421.0Z"/>
<path fill="#ffffff" stroke="#ffffff" stroke-width="0.7" d="M1262.0,368.0 1266.0,380.0 1270.0,387.0 1276.0,396.0 1280.0,404.0 1285.0,410.0 1288.0,418.0 1291.0,424.0 1296.0,432.0 1300.0,439.0 1304.0,445.0 1306.0,450.0 1307.0,463.0 1309.0,471.0 1306.0,470.0 1296.0,459.0 1289.0,448.0 1287.0,445.0 1283.0,440.0 1280.0,435.0 1279.0,426.0 1276.0,419.0 1271.0,414.0 1270.0,406.0 1267.0,395.0 1263.0,385.0Z"/>
<path fill="#f58b35" stroke="#f58b35" stroke-width="0.7" d="M1266.0,380.0 1275.0,377.0 1274.0,366.0 1283.0,363.0 1291.0,364.0 1298.0,370.0 1306.0,377.0 1310.0,378.5 1318.0,379.0 1320.0,379.0 1324.0,383.0 1328.0,388.0 1332.0,393.0 1336.0,400.0 1340.0,403.0 1343.0,407.0 1345.0,410.0 1348.0,412.0 1354.0,413.0 1358.0,414.0 1360.0,418.0 1359.0,428.0 1350.0,432.0 1346.0,435.0 1335.0,438.0 1326.0,440.0 1320.0,442.0 1312.0,444.0 1306.0,445.0 1304.0,445.0 1300.0,439.0 1296.0,432.0 1291.0,424.0 1288.0,418.0 1285.0,410.0 1280.0,404.0 1276.0,396.0 1270.0,387.0Z"/>
<path fill="#f58b35" stroke="#f58b35" stroke-width="0.7" d="M1266.0,356.0 1270.0,360.0 1280.0,356.0 1282.0,362.0 1275.0,365.0 1274.0,370.0 1276.0,377.0 1266.0,380.0Z"/>
<path fill="#f7a236" stroke="#f7a236" stroke-width="0.7" d="M1263.0,364.0 1266.0,356.0 1267.2,360.0 1266.2,380.0 1265.0,376.0 1263.0,370.0Z"/>
<path fill="#f37336" stroke="#f37336" stroke-width="0.7" d="M1318.0,373.0 1322.0,373.0 1324.0,379.0 1320.0,380.0 1318.0,379.0Z"/>
<path fill="#f58b35" stroke="#f58b35" stroke-width="0.7" d="M1337.0,397.0 1339.0,396.0 1340.5,400.0 1339.0,403.0 1337.0,401.0Z"/>
<path fill="#f7a236" stroke="#f7a236" stroke-width="0.7" d="M1343.0,407.0 1346.0,408.0 1350.0,407.0 1354.0,404.0 1358.0,398.0 1360.0,395.0 1360.5,402.0 1359.0,406.0 1358.0,414.0 1354.0,413.0 1348.0,412.0 1345.0,410.0Z"/>
<path fill="#f58b35" stroke="#f58b35" stroke-width="0.7" d="M1360.0,395.0 1361.0,400.0 1360.0,404.0 1359.0,410.0 1360.0,415.0 1359.0,420.0 1358.0,428.0 1350.0,432.0 1346.0,435.0 1350.0,446.0 1354.0,447.0 1360.0,444.0 1365.0,440.0 1370.0,434.0 1372.0,428.0 1375.0,422.0 1378.0,416.0 1375.0,412.0 1370.0,409.0 1366.0,406.0 1363.0,402.0Z"/>
<path fill="#b02c33" stroke="#b02c33" stroke-width="0.7" d="M1306.0,445.0 1312.0,444.0 1320.0,442.0 1326.0,440.0 1335.0,438.0 1346.0,435.0 1350.0,446.0 1350.0,451.0 1306.0,451.0Z"/>
<path fill="#ef4e38" stroke="#ef4e38" stroke-width="0.7" d="M760.0,496.0 764.0,490.0 770.0,482.0 776.0,476.0 782.0,474.0 790.0,476.0 800.0,480.0 810.0,482.0 820.0,484.0 830.0,486.0 836.0,492.0 839.0,496.0 842.0,498.0 850.0,506.0 858.0,508.0 864.0,510.0 870.0,512.0 876.0,518.0 880.0,526.0 884.0,534.0 882.0,540.0 878.0,546.0 874.0,550.0 882.0,548.0 890.0,546.0 900.0,548.0 908.0,554.0 914.0,558.0 922.0,558.0 930.0,560.0 938.0,566.0 946.0,570.0 952.0,576.0 953.0,586.0 950.0,594.0 944.0,604.0 938.0,614.0 936.0,626.0 936.0,640.0 934.0,650.0 930.0,660.0 928.0,672.0 804.0,672.0 802.0,660.0 800.0,650.0 794.0,646.0 786.0,640.0 778.0,634.0 770.0,624.0 766.0,614.0 760.0,602.0 754.0,590.0 746.0,582.0 742.0,576.0 741.0,568.0 742.0,558.0 744.0,548.0 746.0,536.0 752.0,530.0 756.0,522.0 758.0,510.0Z"/>
<path fill="#b02c33" stroke="#b02c33" stroke-width="0.7" d="M784.0,478.0 790.0,476.0 800.0,480.0 810.0,482.0 820.0,484.0 830.0,486.0 836.0,492.0 839.0,496.0 834.0,504.0 834.0,512.0 826.0,518.0 818.0,520.0 820.0,528.0 812.0,536.0 806.0,530.0 804.0,520.0 802.0,510.0 796.0,506.0 786.0,500.0 782.0,490.0Z"/>
<path fill="#ffffff" stroke="#ffffff" stroke-width="0.7" d="M787.0,482.0 790.0,481.0 789.6,488.0 787.2,489.0Z"/>
<path fill="#f37336" stroke="#f37336" stroke-width="0.7" d="M839.0,496.0 846.0,504.0 850.0,508.0 849.0,516.0 851.0,528.0 844.0,534.0 840.0,530.0 839.0,520.0 834.0,512.0 834.0,504.0Z"/>
<path fill="#e1e2e2" stroke="#e1e2e2" stroke-width="0.7" d="M864.0,510.0 870.0,511.0 876.0,518.0 874.0,524.0 868.0,528.0 863.0,524.0Z"/>
<path fill="#df3335" stroke="#df3335" stroke-width="0.7" d="M798.0,606.0 814.0,600.0 816.0,610.0 826.0,616.0 840.0,622.0 844.0,636.0 850.0,642.0 854.0,650.0 856.0,672.0 806.0,672.0 804.0,654.0 800.0,646.0 800.0,626.0Z"/>
<path fill="#ef4e38" stroke="#ef4e38" stroke-width="0.7" d="M789.9,637.7 799.1,646.9 801.4,656.1 804.8,669.9 807.1,686.0 808.3,704.4 810.6,720.5 812.9,736.6 814.0,754.9 817.5,768.7 822.1,782.5 826.7,796.3 829.0,810.1 833.6,823.9 842.8,837.7 852.0,846.9 863.4,853.8 874.9,858.4 884.1,857.2 874.9,851.5 865.7,842.3 861.1,837.7 863.4,830.8 865.7,819.3 858.9,810.1 856.6,803.2 861.1,796.3 858.9,787.1 854.3,777.9 861.1,775.6 863.4,768.7 861.1,764.1 872.6,764.1 879.5,757.2 879.5,750.3 874.9,745.7 870.3,741.1 874.9,738.9 884.1,741.1 888.7,736.6 893.3,727.4 897.9,715.9 900.2,706.7 902.5,699.8 902.5,690.6 909.4,681.4 918.6,674.5 927.8,669.9 932.4,663.0 934.7,653.8 937.0,637.7Z"/>
<path fill="#f7a236" stroke="#f7a236" stroke-width="0.7" d="M799.1,644.6 801.4,656.1 804.8,669.9 807.1,686.0 808.3,704.4 810.6,720.5 812.9,736.6 814.0,754.9 817.5,768.7 822.1,782.5 826.7,796.3 829.0,810.1 833.6,823.9 842.8,837.7 852.0,846.9 863.4,853.8 874.9,858.4 884.1,857.2 874.9,851.5 865.7,843.4 858.9,842.3 853.1,837.7 848.5,830.8 842.8,819.3 838.2,805.5 831.7,789.4 827.1,771.0 824.8,754.9 822.5,738.9 819.3,722.8 816.6,704.4 816.1,686.0 818.9,676.8 816.6,669.9 809.4,660.7 804.8,649.2Z"/>
<path fill="#df3335" stroke="#df3335" stroke-width="0.7" d="M801.4,637.7 852.0,637.7 854.3,649.2 847.4,653.8 838.2,656.1 838.2,667.6 835.9,669.9 822.1,669.9 815.2,669.9 808.3,660.7 803.7,649.2Z"/>
<path fill="#df3335" stroke="#df3335" stroke-width="0.7" d="M838.2,656.1 847.4,653.8 854.3,658.4 856.6,669.9 868.0,676.8 874.9,681.4 874.9,690.6 872.6,699.8 861.1,699.8 858.9,688.3 847.4,674.5 838.2,667.6Z"/>
<path fill="#fbb92f" stroke="#fbb92f" stroke-width="0.7" d="M868.0,715.9 874.9,718.2 884.1,727.4 888.7,734.3 886.4,741.1 877.2,741.1 870.3,736.6 868.0,727.4Z"/>
<path fill="#fbb92f" stroke="#fbb92f" stroke-width="0.7" d="M1703.9,613.1 1712.3,612.0 1718.6,617.3 1729.1,618.3 1727.0,627.8 1722.8,634.1 1731.2,642.5 1739.6,651.9 1745.9,646.7 1750.0,636.2 1754.2,621.5 1758.0,611.0 1760.5,627.8 1764.7,636.2 1764.7,653.0 1768.9,665.6 1773.1,678.2 1775.2,688.7 1777.3,701.3 1775.2,716.0 1768.9,728.6 1760.5,741.2 1752.1,751.7 1743.8,762.1 1735.4,770.5 1727.0,776.8 1714.4,778.9 1706.0,783.1 1697.6,783.1 1691.3,774.7 1691.3,762.1 1687.1,757.9 1682.9,745.4 1678.7,737.0 1664.0,734.9 1647.2,737.0 1632.5,745.4 1617.8,747.5 1607.3,751.7 1599.9,745.4 1605.2,737.0 1607.3,724.4 1609.4,711.8 1609.4,699.2 1611.5,688.7 1617.8,676.1 1632.5,669.8 1643.0,663.5 1653.5,659.3 1659.8,650.9 1664.0,644.6 1674.5,636.2 1685.0,629.9 1693.4,634.1 1697.6,627.8 1701.8,619.4Z"/>
<path fill="#fbb92f" stroke="#fbb92f" stroke-width="0.7" d="M1697.0,795.0 1702.0,797.0 1709.0,797.0 1705.0,803.0 1700.0,809.0 1693.0,812.0 1691.0,810.0 1693.0,804.0 1695.0,798.0Z"/>
<path fill="#fdd426" stroke="#fdd426" stroke-width="0.7" d="M1829.0,771.0 1830.0,775.0 1829.0,781.0 1826.0,786.0 1824.0,790.0 1830.0,793.0 1835.0,793.0 1831.0,797.0 1825.0,801.0 1820.0,805.0 1814.0,809.0 1806.0,814.0 1805.0,812.0 1811.0,806.0 1812.0,800.0 1816.0,798.0 1820.0,794.0 1824.0,790.0 1827.0,784.0 1828.0,776.0Z"/>
<path fill="#fdd426" stroke="#fdd426" stroke-width="0.7" d="M1800.0,808.0 1803.0,811.0 1798.0,816.0 1790.0,821.0 1786.0,825.0 1780.0,828.0 1773.0,832.0 1766.0,837.0 1758.0,841.0 1753.0,839.0 1754.0,836.0 1760.0,832.0 1768.0,827.0 1776.0,823.0 1784.0,820.0 1790.0,815.0 1796.0,811.0Z"/>
<path fill="#ef4e38" stroke="#ef4e38" stroke-width="0.7" d="M1712.0,547.5 1718.0,545.2 1724.0,547.5 1725.5,553.5 1724.0,558.0 1727.0,562.5 1731.5,565.5 1737.5,556.5 1742.0,552.0 1748.0,555.0 1756.2,559.5 1754.0,600.0 1745.0,595.5 1739.0,594.0 1743.5,588.0 1745.0,580.5 1742.0,574.5 1736.0,570.0 1730.0,567.0 1724.0,567.0 1721.0,564.0 1718.0,558.0 1715.0,552.0Z"/>
<path fill="#df3335" stroke="#df3335" stroke-width="0.7" d="M1756.2,559.5 1763.0,562.5 1770.5,567.0 1776.5,571.5 1779.5,577.5 1785.5,583.5 1781.0,585.0 1778.0,588.0 1782.5,597.0 1787.0,603.0 1793.0,607.5 1794.5,610.5 1790.0,609.0 1784.0,604.5 1778.0,598.5 1772.0,592.5 1766.0,595.5 1761.5,600.0 1754.0,600.0Z"/>
<path fill="#df3335" stroke="#df3335" stroke-width="0.7" d="M1788.5,578.2 1796.0,576.0 1802.0,573.0 1805.0,568.5 1809.5,570.0 1806.5,576.0 1799.0,580.5 1791.5,580.5Z"/>
<path fill="#df3335" stroke="#df3335" stroke-width="0.7" d="M1817.0,574.5 1820.0,576.0 1823.0,585.0 1821.5,588.0 1818.5,583.5Z"/>
<path fill="#df3335" stroke="#df3335" stroke-width="0.7" d="M1800.5,610.5 1805.0,612.0 1811.0,616.5 1808.0,618.0 1802.0,615.0Z"/>
<path fill="#ef4e38" stroke="#ef4e38" stroke-width="0.7" d="M1640.0,592.5 1649.0,591.8 1658.0,593.2 1667.0,592.5 1677.5,591.8 1689.5,589.5 1682.0,597.0 1676.0,603.0 1673.0,604.5 1670.0,600.0 1662.5,597.0 1655.0,595.5 1647.5,595.5 1640.0,597.0Z"/>
<path fill="#ef4e38" stroke="#ef4e38" stroke-width="0.7" d="M1653.5,600.0 1658.0,599.2 1661.0,603.0 1656.5,603.8Z"/>
<path fill="#ef4e38" stroke="#ef4e38" stroke-width="0.7" d="M1697.0,561.0 1706.0,559.5 1709.0,564.0 1700.0,564.8Z"/>
<path fill="#ef4e38" stroke="#ef4e38" stroke-width="0.7" d="M1688.0,562.5 1692.5,561.8 1693.2,564.8 1688.8,564.8Z"/>
<path fill="#f37336" stroke="#f37336" stroke-width="0.7" d="M1826.0,586.5 1832.0,591.0 1839.5,600.0 1845.5,609.0 1847.0,613.5 1844.0,612.0 1838.0,603.0 1830.5,594.0 1824.5,589.5Z"/>
<path fill="#f37336" stroke="#f37336" stroke-width="0.7" d="M1860.5,630.0 1865.0,630.0 1868.0,645.0 1865.0,660.0 1863.5,675.0 1862.0,670.5 1862.0,654.0 1859.8,642.0Z"/>
<path fill="#f37336" stroke="#f37336" stroke-width="0.7" d="M1901.0,657.0 1908.5,654.0 1916.0,651.0 1921.2,654.0 1920.5,664.5 1917.5,672.0 1910.0,673.5 1902.5,672.0 1901.0,664.5Z"/>
<path fill="#e1e2e2" stroke="#e1e2e2" stroke-width="0.7" d="M1838.0,670.5 1841.8,672.0 1848.5,682.5 1853.0,690.0 1847.0,690.0 1841.0,681.0Z"/>
<path fill="#b02c33" stroke="#b02c33" stroke-width="0.7" d="M1633.0,282.0 1640.0,290.0 1641.0,300.0 1636.0,308.0 1630.0,313.0 1622.0,306.0 1620.0,298.0 1626.0,290.0Z"/>
<path fill="#fbb92f" stroke="#fbb92f" stroke-width="0.7" d="M1501.0,381.0 1505.5,377.5 1511.5,379.0 1515.0,385.0 1510.0,387.0 1502.5,386.5Z"/>
<path fill="#df3335" stroke="#df3335" stroke-width="0.7" d="M1264.8,259.7 1304.0,259.7 1304.0,304.8 1306.8,309.0 1280.2,298.5 1273.2,293.6 1266.2,288.0 1267.6,283.1 1270.4,280.3 1273.2,277.5 1274.6,264.2 1273.9,259.7Z"/>
<path fill="#f58b35" stroke="#f58b35" stroke-width="0.7" d="M1280.2,298.5 1284.4,299.2 1290.0,300.6 1297.0,302.7 1304.0,305.5 1306.8,309.0 1304.0,310.4 1297.0,309.7 1290.0,309.0 1286.5,308.3 1285.1,304.8Z"/>
<path fill="#ef4e38" stroke="#ef4e38" stroke-width="0.7" d="M1225.6,313.2 1231.2,310.4 1238.2,312.1 1245.2,310.4 1249.4,308.3 1253.6,307.2 1257.8,306.9 1262.0,307.6 1265.5,309.0 1270.4,310.4 1276.0,311.8 1281.6,311.1 1285.1,309.7 1287.2,309.0 1293.5,310.4 1297.0,311.8 1298.4,316.0 1299.1,320.9 1297.0,330.0 1225.6,330.0Z"/>
<path fill="#f37336" stroke="#f37336" stroke-width="0.7" d="M1295.6,310.4 1304.0,310.4 1306.8,313.2 1307.5,321.6 1304.0,321.6 1299.1,316.0Z"/>
<path fill="#ffffff" stroke="#ffffff" stroke-width="0.7" d="M1230.5,303.4 1231.9,296.4 1234.0,292.2 1236.8,288.0 1239.6,284.5 1242.4,281.0 1245.2,280.3 1246.6,282.4 1249.4,284.5 1252.2,284.1 1255.0,283.1 1258.5,281.0 1263.4,278.9 1269.0,277.5 1273.2,277.5 1270.4,280.3 1267.6,283.1 1266.2,286.6 1265.5,288.7 1269.0,290.8 1273.2,293.6 1277.4,296.4 1280.2,298.5 1284.4,302.0 1286.5,305.5 1285.1,309.7 1281.6,311.1 1276.0,311.8 1270.4,310.4 1265.5,309.0 1262.0,307.6 1257.8,306.9 1253.6,307.2 1249.4,308.3 1245.2,310.4 1242.4,311.8 1238.2,311.8 1234.0,310.4 1231.2,307.6Z"/>
<path fill="#ef4e38" stroke="#ef4e38" stroke-width="0.7" d="M1248.7,287.3 1252.2,285.2 1255.0,284.1 1257.8,285.2 1260.6,288.0 1259.2,290.1 1255.0,291.5 1252.9,292.9 1250.8,290.1Z"/>
<path fill="#ffffff" stroke="#ffffff" stroke-width="0.7" d="M1310.0,282.5 1320.0,277.5 1327.5,280.0 1325.0,287.5 1317.5,292.5 1317.5,300.0 1325.0,305.0 1335.0,305.0 1337.5,312.5 1335.0,320.0 1340.0,327.5 1337.5,335.0 1327.5,336.0 1322.5,330.0 1320.0,322.5 1317.5,315.0 1315.0,307.5 1310.0,300.0 1305.0,292.5 1306.0,285.0Z"/>
<path fill="#f58b35" stroke="#f58b35" stroke-width="0.7" d="M1146.8,286.8 1152.4,282.6 1160.8,281.2 1169.2,280.5 1172.0,284.0 1170.6,288.2 1167.8,289.6 1170.6,295.2 1174.8,300.8 1179.0,306.4 1183.2,310.6 1188.8,314.8 1193.0,319.0 1190.2,320.4 1186.0,319.0 1183.2,321.8 1186.0,326.0 1181.8,331.6 1179.0,330.2 1177.6,326.0 1174.8,321.8 1170.6,317.6 1166.4,312.0 1162.2,306.4 1158.0,302.2 1153.8,298.0 1149.6,296.6 1146.8,292.4Z"/>
<path fill="#f58b35" stroke="#f58b35" stroke-width="0.7" d="M1169.2,331.6 1176.2,329.5 1180.4,330.2 1179.0,334.4 1173.4,336.5 1170.6,334.4Z"/>
<path fill="#f58b35" stroke="#f58b35" stroke-width="0.7" d="M1151.7,312.0 1156.6,310.6 1157.3,320.4 1153.8,324.6 1151.0,321.8Z"/>
<path fill="#f7a236" stroke="#f7a236" stroke-width="0.7" d="M1153.1,304.3 1156.6,303.6 1156.3,309.9 1153.5,310.6Z"/>
<path fill="#fdd426" stroke="#fdd426" stroke-width="0.7" d="M1153.1,222.4 1158.0,221.0 1160.8,223.8 1159.4,229.4 1162.2,233.6 1160.8,239.2 1156.6,239.9 1153.8,236.4 1153.1,229.4Z"/>
<path fill="#fdd426" stroke="#fdd426" stroke-width="0.7" d="M1162.2,229.4 1166.4,228.0 1169.2,232.2 1166.4,236.4 1162.9,235.0Z"/>
<path fill="#df3335" stroke="#df3335" stroke-width="0.7" d="M1330.0,372.0 1335.0,378.0 1338.0,383.0 1342.0,387.5 1348.0,391.0 1354.0,390.0 1358.0,389.0 1362.0,390.0 1363.0,394.0 1370.0,397.0 1380.0,398.0 1390.0,398.0 1392.0,385.0 1335.0,372.0Z"/>
<path fill="#df3335" stroke="#df3335" stroke-width="0.7" d="M640.0,380.0 684.8,380.0 682.7,394.0 683.4,408.0 686.2,420.6 690.4,429.0 698.8,431.8 705.8,429.0 712.8,424.8 715.6,419.2 718.4,416.4 724.0,414.3 728.9,415.0 725.4,422.0 721.2,430.4 718.4,438.8 718.4,445.8 724.0,448.6 731.0,450.0 738.0,452.8 736.6,457.0 731.0,455.6 724.0,458.4 718.4,464.0 715.6,462.6 710.0,459.8 704.4,457.0 698.8,452.8 693.2,447.2 687.6,444.4 679.2,445.8 668.0,440.2 656.8,433.2 648.4,424.8 645.6,417.8 642.8,401.0 640.0,391.2Z"/>
<path fill="#b02c33" stroke="#b02c33" stroke-width="0.7" d="M717.0,465.4 724.0,459.8 731.0,455.6 737.3,454.2 736.6,458.4 732.4,469.6 731.0,478.0 726.8,476.6 722.6,472.4 718.4,469.6Z"/>
<path fill="#f58b35" stroke="#f58b35" stroke-width="0.7" d="M724.0,476.6 726.8,476.6 731.0,478.0 733.8,483.6 735.2,490.6 731.0,489.2 726.8,483.6 724.0,480.8Z"/>
<path fill="#df3335" stroke="#df3335" stroke-width="0.7" d="M735.2,490.6 738.0,486.4 743.6,487.8 749.2,487.8 752.0,486.4 756.2,487.8 760.4,492.0 761.8,496.2 759.0,497.6 754.8,493.4 752.0,490.6 746.4,492.0 743.6,497.6 740.8,493.4 736.6,492.0Z"/>
<path fill="#ef4e38" stroke="#ef4e38" stroke-width="0.7" d="M707.2,457.0 712.8,458.4 715.6,462.6 710.0,462.6 705.8,459.8Z"/>
<path fill="#ef4e38" stroke="#ef4e38" stroke-width="0.7" d="M759.0,492.0 761.8,486.4 768.8,480.8 774.4,476.6 780.0,473.8 785.6,471.0 789.8,469.6 791.2,472.4 787.0,476.6 785.6,483.6 784.2,489.2 780.0,492.0 774.4,492.0 766.0,493.4Z"/>
<path fill="#b02c33" stroke="#b02c33" stroke-width="0.7" d="M785.6,478.0 791.2,476.6 796.8,476.6 801.0,478.0 808.0,479.4 815.0,480.8 822.0,480.1 830.4,480.8 836.0,483.6 838.8,492.0 836.0,500.4 822.0,501.8 794.0,499.0 784.2,492.0 784.2,483.6Z"/>
<path fill="#ffffff" stroke="#ffffff" stroke-width="0.7" d="M785.6,480.8 788.7,480.5 789.3,486.4 787.0,489.5 785.1,487.1Z"/>
<path fill="#f7a236" stroke="#f7a236" stroke-width="0.7" d="M770.0,384.0 775.0,383.0 778.0,392.0 773.0,394.0Z"/>
<path fill="#f7a236" stroke="#f7a236" stroke-width="0.7" d="M776.0,396.0 782.0,393.0 786.0,402.0 780.0,405.0Z"/>
<path fill="#f7a236" stroke="#f7a236" stroke-width="0.7" d="M784.0,404.0 790.0,406.0 792.0,414.0 786.0,413.0Z"/>
<path fill="#f7a236" stroke="#f7a236" stroke-width="0.7" d="M781.0,410.0 785.0,410.0 787.0,417.0 782.0,417.0Z"/>
<path fill="#f7a236" stroke="#f7a236" stroke-width="0.7" d="M766.0,395.0 769.0,394.0 770.0,402.0 767.0,402.0Z"/>
<path fill="#e1e2e2" stroke="#e1e2e2" stroke-width="0.7" d="M811.0,436.0 818.0,435.0 820.0,439.0 812.0,440.0Z"/>
<path fill="#e1e2e2" stroke="#e1e2e2" stroke-width="0.7" d="M831.0,440.0 836.0,441.0 838.0,450.0 834.0,452.0 830.0,446.0Z"/>
<line x1="824.2" y1="455.4" x2="836.4" y2="453" stroke="#58595b" stroke-width="0.6"/>
<line x1="824.8" y1="463.8" x2="837" y2="461.5" stroke="#58595b" stroke-width="0.6"/>
<line x1="824.6" y1="473" x2="833" y2="472" stroke="#58595b" stroke-width="0.6"/>
<line x1="846.3" y1="479" x2="836.5" y2="466" stroke="#58595b" stroke-width="0.6"/>
<line x1="854.4" y1="474.6" x2="843" y2="466" stroke="#58595b" stroke-width="0.6"/>
<line x1="1625.2" y1="413.3" x2="1618" y2="408" stroke="#58595b" stroke-width="0.6"/>
<circle cx="779.2" cy="401" r="3" fill="#f7a236" stroke="#58595b" stroke-width="0.6"/>
<circle cx="824.2" cy="455.4" r="3" fill="#f7a236" stroke="#58595b" stroke-width="0.6"/>
<circle cx="824.8" cy="463.8" r="3" fill="#f58b35" stroke="#58595b" stroke-width="0.6"/>
<circle cx="824.6" cy="473" r="3" fill="#f58b35" stroke="#58595b" stroke-width="0.6"/>
<circle cx="846.3" cy="479" r="3" fill="#f7a236" stroke="#58595b" stroke-width="0.6"/>
<circle cx="854.4" cy="474.6" r="3" fill="#f7a236" stroke="#58595b" stroke-width="0.6"/>
<circle cx="835.6" cy="482.5" r="3" fill="#f37336" stroke="#58595b" stroke-width="0.6"/>
<circle cx="1006.3" cy="453.3" r="3" fill="#f7a236" stroke="#58595b" stroke-width="0.6"/>
<circle cx="1176.3" cy="341.8" r="3" fill="#f37336" stroke="#58595b" stroke-width="0.6"/>
<circle cx="1335.5" cy="395" r="3" fill="#f37336" stroke="#58595b" stroke-width="0.6"/>
<circle cx="1587.5" cy="535.2" r="3" fill="#fdd426" stroke="#58595b" stroke-width="0.6"/>
<circle cx="1625.2" cy="413.3" r="3" fill="#fbb92f" stroke="#58595b" stroke-width="0.6"/>
<circle cx="1144" cy="541" r="3" fill="#f37336" stroke="#58595b" stroke-width="0.6"/>
<circle cx="1350.6" cy="580" r="3" fill="#f7a236" stroke="#58595b" stroke-width="0.6"/>
<circle cx="1311" cy="610" r="3" fill="#b02c33" stroke="#58595b" stroke-width="0.6"/>
<circle cx="1363" cy="663" r="3" fill="#f37336" stroke="#58595b" stroke-width="0.6"/>
<circle cx="1447.8" cy="521" r="3" fill="#df3335" stroke="#58595b" stroke-width="0.6"/>
<circle cx="1685" cy="597.3" r="3" fill="#f37336" stroke="#58595b" stroke-width="0.6"/>
<circle cx="1838.8" cy="601.5" r="3" fill="#f37336" stroke="#58595b" stroke-width="0.6"/>
<circle cx="1864.3" cy="651" r="3" fill="#f37336" stroke="#58595b" stroke-width="0.6"/>
<circle cx="1901.8" cy="653.5" r="3" fill="#f37336" stroke="#58595b" stroke-width="0.6"/>
<circle cx="1143.8" cy="263.6" r="3" fill="none" stroke="#58595b" stroke-width="0.6"/>
</g>

<g transform="translate(66,104) scale(0.098)">
 <circle cx="493" cy="498" r="455" fill="#10a5df"/>
 <path fill="#fff" d="M333,408 C340,330 400,200 470,130 C500,100 530,85 555,78 A420,420 0 0 1 830,248 C810,300 720,370 600,405 C500,428 400,425 333,408 Z"/>
 <path fill="#fff" d="M690,20 L647,125 L711,148 L765,60 Z"/>
 <path fill="#fff" d="M510,630 C620,610 760,560 850,460 C875,430 888,405 893,385 A420,420 0 0 1 570,885 C540,810 515,720 510,630 Z"/>
 <path fill="#fff" d="M318,597 L510,627 L512,641 L342,612 C352,700 370,800 394,878 L380,878 C350,790 328,690 318,597 Z"/>
 <path fill="#fff" d="M148,287 A420,420 0 0 1 335,100 C270,160 215,240 182,330 Z"/>
 <path fill="#fff" d="M95,420 L140,495 C145,580 155,660 172,725 A410,410 0 0 1 95,420 Z"/>
 <circle cx="458" cy="303" r="75" fill="#10a5df"/>
</g>
<text x="175.5" y="134" font-family="Liberation Sans" font-size="35.5" font-weight="normal" fill="#10a5df" text-anchor="start" textLength="271.5" lengthAdjust="spacingAndGlyphs" >TRANSPARENCY</text><text x="172.5" y="165.5" font-family="Liberation Sans" font-size="35.5" font-weight="normal" fill="#10a5df" text-anchor="start" textLength="278" lengthAdjust="spacingAndGlyphs" >INTERNATIONAL</text><text x="172.5" y="197" font-family="Liberation Sans" font-size="35.5" font-weight="normal" fill="#10a5df" text-anchor="start" textLength="110" lengthAdjust="spacingAndGlyphs" >ITALIA</text><text x="176" y="225" font-family="Liberation Sans" font-size="17" font-weight="normal" fill="#10a5df" text-anchor="start" textLength="240" lengthAdjust="spacingAndGlyphs" >Associazione contro la corruzione</text><text transform="translate(69,350) scale(0.5,1)" x="0" y="0" font-family="Liberation Sans" font-size="96.5" font-weight="bold" fill="#231f20" textLength="416.00" lengthAdjust="spacing" filter="url(#hb)">INDICE</text><text transform="translate(69,444.8) scale(0.5,1)" x="0" y="0" font-family="Liberation Sans" font-size="96.5" font-weight="bold" fill="#231f20" textLength="754.00" lengthAdjust="spacing" filter="url(#hb)">PERCEZIONE</text><text transform="translate(68.5,539.3) scale(0.5,1)" x="0" y="0" font-family="Liberation Sans" font-size="96.5" font-weight="bold" fill="#231f20" textLength="816.00" lengthAdjust="spacing" filter="url(#hb)">CORRUZIONE</text><text transform="translate(496,539.9) scale(0.7,1)" x="0" y="0" font-family="Liberation Sans" font-size="98" font-weight="bold" fill="#ec1068" textLength="232.86" lengthAdjust="spacing" filter="url(#hb2)">2025</text><text x="68.5" y="655" font-family="Liberation Sans" font-size="27.5" font-weight="normal" fill="#231f20" text-anchor="start" textLength="629" lengthAdjust="spacingAndGlyphs" stroke="#231f20" stroke-width="0.6">Livelli percepiti di corruzione nel settore pubblico</text><text x="68.5" y="691" font-family="Liberation Sans" font-size="27.5" font-weight="normal" fill="#231f20" text-anchor="start" textLength="493.7" lengthAdjust="spacingAndGlyphs" stroke="#231f20" stroke-width="0.6">in 182 paesi/territori in tutto il mondo.</text>
<rect x="0" y="575.5" width="663" height="8.5" fill="#231f20"/>
<rect x="122.8" y="828.5" width="449.8" height="23.9" fill="url(#lg)"/><path d="M137.3,852.3 L143.7,852.3 L140.5,857.2Z" fill="#851417"/><text x="140.5" y="878" font-family="Liberation Sans" font-size="15.5" font-weight="normal" fill="#231f20" text-anchor="middle" textLength="15.8" lengthAdjust="spacingAndGlyphs" stroke="#231f20" stroke-width="0.35">0-9</text><path d="M182.9,852.3 L189.3,852.3 L186.1,857.2Z" fill="#a8191f"/><text x="186.1" y="878" font-family="Liberation Sans" font-size="15.5" font-weight="normal" fill="#231f20" text-anchor="middle" textLength="27.4" lengthAdjust="spacingAndGlyphs" stroke="#231f20" stroke-width="0.35">10-19</text><path d="M228.5,852.3 L234.9,852.3 L231.7,857.2Z" fill="#df1f26"/><text x="231.7" y="878" font-family="Liberation Sans" font-size="15.5" font-weight="normal" fill="#231f20" text-anchor="middle" textLength="27.4" lengthAdjust="spacingAndGlyphs" stroke="#231f20" stroke-width="0.35">20-29</text><path d="M274.1,852.3 L280.5,852.3 L277.3,857.2Z" fill="#ee4a26"/><text x="277.3" y="878" font-family="Liberation Sans" font-size="15.5" font-weight="normal" fill="#231f20" text-anchor="middle" textLength="27.4" lengthAdjust="spacingAndGlyphs" stroke="#231f20" stroke-width="0.35">30-39</text><path d="M319.7,852.3 L326.1,852.3 L322.9,857.2Z" fill="#f27027"/><text x="322.9" y="878" font-family="Liberation Sans" font-size="15.5" font-weight="normal" fill="#231f20" text-anchor="middle" textLength="27.4" lengthAdjust="spacingAndGlyphs" stroke="#231f20" stroke-width="0.35">40-49</text><path d="M365.3,852.3 L371.7,852.3 L368.5,857.2Z" fill="#f58b20"/><text x="368.5" y="878" font-family="Liberation Sans" font-size="15.5" font-weight="normal" fill="#231f20" text-anchor="middle" textLength="27.4" lengthAdjust="spacingAndGlyphs" stroke="#231f20" stroke-width="0.35">50-59</text><path d="M410.9,852.3 L417.3,852.3 L414.1,857.2Z" fill="#f8a11f"/><text x="414.1" y="878" font-family="Liberation Sans" font-size="15.5" font-weight="normal" fill="#231f20" text-anchor="middle" textLength="27.4" lengthAdjust="spacingAndGlyphs" stroke="#231f20" stroke-width="0.35">60-69</text><path d="M456.5,852.3 L462.9,852.3 L459.7,857.2Z" fill="#fbb719"/><text x="459.7" y="878" font-family="Liberation Sans" font-size="15.5" font-weight="normal" fill="#231f20" text-anchor="middle" textLength="27.4" lengthAdjust="spacingAndGlyphs" stroke="#231f20" stroke-width="0.35">70-79</text><path d="M502.1,852.3 L508.5,852.3 L505.3,857.2Z" fill="#fdd20a"/><text x="505.3" y="878" font-family="Liberation Sans" font-size="15.5" font-weight="normal" fill="#231f20" text-anchor="middle" textLength="27.4" lengthAdjust="spacingAndGlyphs" stroke="#231f20" stroke-width="0.35">80-89</text><path d="M547.7,852.3 L554.1,852.3 L550.9,857.2Z" fill="#fff000"/><text x="550.9" y="878" font-family="Liberation Sans" font-size="15.5" font-weight="normal" fill="#231f20" text-anchor="middle" textLength="33" lengthAdjust="spacingAndGlyphs" stroke="#231f20" stroke-width="0.35">90-100</text><text x="122" y="815" font-family="Liberation Sans" font-size="27.5" font-weight="normal" fill="#231f20" text-anchor="start" textLength="99.5" lengthAdjust="spacingAndGlyphs" stroke="#231f20" stroke-width="0.5">PUNTEGGIO</text><text x="69.5" y="838.6" font-family="Liberation Sans" font-size="15.3" font-weight="bold" fill="#231f20" text-anchor="start" textLength="31.5" lengthAdjust="spacingAndGlyphs" >Molto</text><text x="69.5" y="852.2" font-family="Liberation Sans" font-size="15.3" font-weight="bold" fill="#231f20" text-anchor="start" textLength="44.8" lengthAdjust="spacingAndGlyphs" >corrotto</text><text x="581" y="838.6" font-family="Liberation Sans" font-size="15.3" font-weight="bold" fill="#231f20" text-anchor="start" textLength="25.8" lengthAdjust="spacingAndGlyphs" >Poco</text><text x="581" y="852.2" font-family="Liberation Sans" font-size="15.3" font-weight="bold" fill="#231f20" text-anchor="start" textLength="46.4" lengthAdjust="spacingAndGlyphs" >Corrotto</text><rect x="641" y="828.6" width="34.4" height="24" fill="#e1e2e3"/><path d="M655.0,852.5 L661.4,852.5 L658.2,857.2Z" fill="#e1e2e3"/><rect x="695.5" y="828.6" width="34.4" height="24" fill="#939598"/><path d="M709.5,852.5 L715.9,852.5 L712.7,857.2Z" fill="#939598"/><rect x="758.6" y="828.6" width="34.4" height="24" fill="#939598"/><path d="M772.6,852.5 L779.0,852.5 L775.8,857.2Z" fill="#939598"/><rect x="703.5" y="839.7" width="3.2" height="1.6" fill="#fff"/><rect x="708.7" y="839.7" width="3.2" height="1.6" fill="#fff"/><rect x="713.9" y="839.7" width="3.2" height="1.6" fill="#fff"/><rect x="719.1" y="839.7" width="3.2" height="1.6" fill="#fff"/><rect x="765.5" y="839.7" width="8.6" height="1.8" fill="#fff"/><rect x="777.5" y="839.7" width="8.6" height="1.8" fill="#fff"/><text x="640" y="878.2" font-family="Liberation Sans" font-size="15.5" font-weight="normal" fill="#231f20" text-anchor="start" textLength="37" lengthAdjust="spacingAndGlyphs" stroke="#231f20" stroke-width="0.35">Nessun</text><text x="640" y="894.2" font-family="Liberation Sans" font-size="15.5" font-weight="normal" fill="#231f20" text-anchor="start" textLength="23" lengthAdjust="spacingAndGlyphs" stroke="#231f20" stroke-width="0.35">dato</text><text x="715" y="878.2" font-family="Liberation Sans" font-size="15.5" font-weight="normal" fill="#231f20" text-anchor="middle" textLength="42.5" lengthAdjust="spacingAndGlyphs" stroke="#231f20" stroke-width="0.35">Dispute</text><text x="683" y="894.2" font-family="Liberation Sans" font-size="15.5" font-weight="normal" fill="#231f20" text-anchor="start" textLength="64" lengthAdjust="spacingAndGlyphs" stroke="#231f20" stroke-width="0.35">territoriali*</text><text x="777" y="878.2" font-family="Liberation Sans" font-size="15.5" font-weight="normal" fill="#231f20" text-anchor="middle" textLength="42" lengthAdjust="spacingAndGlyphs" stroke="#231f20" stroke-width="0.35">Linea di</text><text x="751" y="894.2" font-family="Liberation Sans" font-size="15.5" font-weight="normal" fill="#231f20" text-anchor="start" textLength="52" lengthAdjust="spacingAndGlyphs" stroke="#231f20" stroke-width="0.35">controllo*</text><text x="80" y="912" font-family="Liberation Sans" font-size="9.6" font-weight="normal" fill="#231f20" text-anchor="start" textLength="563" lengthAdjust="spacingAndGlyphs" stroke="#231f20" stroke-width="0.25">*Le denominazioni utilizzate e la presentazione del materiale su questa mappa seguono la prassi delle Nazioni Unite al meglio delle nostre conoscenze al gennaio 2026.</text><text x="80" y="922" font-family="Liberation Sans" font-size="9.6" font-weight="normal" fill="#231f20" text-anchor="start" textLength="736" lengthAdjust="spacingAndGlyphs" stroke="#231f20" stroke-width="0.25">Non implicano l&#8217;espressione di alcuna opinione da parte di Transparency International sullo status giuridico di qualsiasi Paese, territorio, citt&#224; o area o delle sue autorit&#224; o sulla delimitazione delle sue frontiere o confini.</text><text x="1816.5" y="847.4" font-family="Liberation Sans" font-size="32.5" font-weight="bold" fill="#3e95d2" text-anchor="start" textLength="113" lengthAdjust="spacingAndGlyphs" >#CPI2025</text><text x="1594.5" y="885.3" font-family="Liberation Sans" font-size="34" font-weight="bold" fill="#0a0a0a" text-anchor="start" textLength="335" lengthAdjust="spacingAndGlyphs" >www.transparency.org/cpi</text><text x="1346" y="926" font-family="Liberation Sans" font-size="15.8" font-weight="normal" fill="#231f20" text-anchor="start" textLength="502" lengthAdjust="spacingAndGlyphs" >This work from Transparency International (2026) is licensed under CC BY-ND 4.0</text><circle cx="1873" cy="920" r="8.2" fill="#fff" stroke="#111" stroke-width="2"/><circle cx="1896.5" cy="920" r="8.2" fill="#fff" stroke="#111" stroke-width="2"/><circle cx="1920" cy="920" r="8.2" fill="#fff" stroke="#111" stroke-width="2"/><text x="1873" y="923.3" font-family="Liberation Sans" font-weight="bold" font-size="9" text-anchor="middle" fill="#111" textLength="10" lengthAdjust="spacingAndGlyphs">cc</text><circle cx="1896.5" cy="914.6" r="1.6" fill="#111"/><path d="M1893.6,917 h5.8 v4.6 h-1.3 v4 h-3.2 v-4 h-1.3z" fill="#111"/><rect x="1916" y="917" width="8" height="1.8" fill="#111"/><rect x="1916" y="921.2" width="8" height="1.8" fill="#111"/>
</svg>
</body></html>
